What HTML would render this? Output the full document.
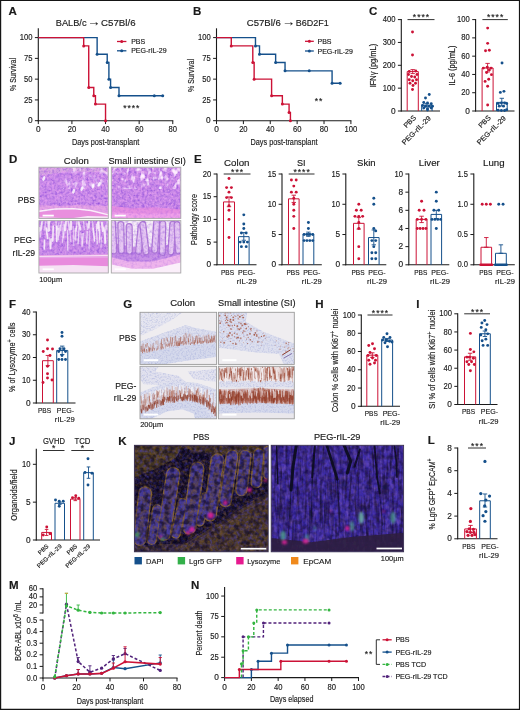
<!DOCTYPE html>
<html lang="en"><head><meta charset="utf-8"><title>Figure</title>
<style>
html,body{margin:0;padding:0;background:#fff}
svg{display:block}
text{font-family:"Liberation Sans",sans-serif;fill:#1a1a1a;stroke:#1a1a1a;stroke-width:0.15px}
</style></head><body>
<svg width="520" height="710" viewBox="0 0 520 710">
<rect x="0" y="0" width="520" height="710" fill="#fff"/>
<text x="8.6" y="15.4" font-size="10.2" font-weight="bold" textLength="8.32" lengthAdjust="spacingAndGlyphs" fill="#000">A</text>
<text x="55.8" y="25.7" font-size="9.3" textLength="30.7" lengthAdjust="spacingAndGlyphs">BALB/c</text>
<text x="93.7" y="25.7" font-size="13" text-anchor="middle">→</text>
<text x="101" y="25.7" font-size="9.3" textLength="34.6" lengthAdjust="spacingAndGlyphs">C57Bl/6</text>
<line x1="38.3" y1="28.3" x2="38.3" y2="121.2" stroke="#1a1a1a" stroke-width="1.1"/>
<line x1="34.9" y1="120.7" x2="38.3" y2="120.7" stroke="#1a1a1a" stroke-width="1"/>
<text x="32.5" y="123.27" font-size="8.3" text-anchor="end">0</text>
<line x1="34.9" y1="99.93" x2="38.3" y2="99.93" stroke="#1a1a1a" stroke-width="1"/>
<text x="32.5" y="102.5" font-size="8.3" text-anchor="end" textLength="8.49" lengthAdjust="spacingAndGlyphs">25</text>
<line x1="34.9" y1="79.15" x2="38.3" y2="79.15" stroke="#1a1a1a" stroke-width="1"/>
<text x="32.5" y="81.72" font-size="8.3" text-anchor="end" textLength="8.49" lengthAdjust="spacingAndGlyphs">50</text>
<line x1="34.9" y1="58.38" x2="38.3" y2="58.38" stroke="#1a1a1a" stroke-width="1"/>
<text x="32.5" y="60.95" font-size="8.3" text-anchor="end" textLength="8.49" lengthAdjust="spacingAndGlyphs">75</text>
<line x1="34.9" y1="37.6" x2="38.3" y2="37.6" stroke="#1a1a1a" stroke-width="1"/>
<text x="32.5" y="40.17" font-size="8.3" text-anchor="end" textLength="12.74" lengthAdjust="spacingAndGlyphs">100</text>
<line x1="37.8" y1="120.7" x2="173.28" y2="120.7" stroke="#1a1a1a" stroke-width="1.1"/>
<line x1="38.3" y1="120.7" x2="38.3" y2="124.1" stroke="#1a1a1a" stroke-width="1"/>
<text x="38.3" y="132.3" font-size="8.3" text-anchor="middle">0</text>
<line x1="71.92" y1="120.7" x2="71.92" y2="124.1" stroke="#1a1a1a" stroke-width="1"/>
<text x="71.92" y="132.3" font-size="8.3" text-anchor="middle" textLength="8.49" lengthAdjust="spacingAndGlyphs">20</text>
<line x1="105.54" y1="120.7" x2="105.54" y2="124.1" stroke="#1a1a1a" stroke-width="1"/>
<text x="105.54" y="132.3" font-size="8.3" text-anchor="middle" textLength="8.49" lengthAdjust="spacingAndGlyphs">40</text>
<line x1="139.16" y1="120.7" x2="139.16" y2="124.1" stroke="#1a1a1a" stroke-width="1"/>
<text x="139.16" y="132.3" font-size="8.3" text-anchor="middle" textLength="8.49" lengthAdjust="spacingAndGlyphs">60</text>
<line x1="172.78" y1="120.7" x2="172.78" y2="124.1" stroke="#1a1a1a" stroke-width="1"/>
<text x="172.78" y="132.3" font-size="8.3" text-anchor="middle" textLength="8.49" lengthAdjust="spacingAndGlyphs">80</text>
<text x="16.2" y="74.5" font-size="9" text-anchor="middle" transform="rotate(-90 16.2 74.5)" textLength="33" lengthAdjust="spacingAndGlyphs">% Survival</text>
<text x="105.6" y="145" font-size="9" text-anchor="middle" textLength="67.4" lengthAdjust="spacingAndGlyphs">Days post-transplant</text>
<path d="M38.3 37.6 L97.13 37.6 L97.13 54.22 L107.22 54.22 L107.22 62.53 L108.9 62.53 L108.9 79.15 L110.58 79.15 L110.58 87.46 L118.99 87.46 L118.99 95.77 L162.69 95.77" stroke="#15508b" stroke-width="1.4" fill="none" stroke-linejoin="miter"/>
<circle cx="97.13" cy="54.22" r="1.5" fill="#15508b"/>
<circle cx="107.22" cy="62.53" r="1.5" fill="#15508b"/>
<circle cx="108.9" cy="79.15" r="1.5" fill="#15508b"/>
<circle cx="110.58" cy="87.46" r="1.5" fill="#15508b"/>
<circle cx="118.99" cy="95.77" r="1.5" fill="#15508b"/>
<circle cx="154.29" cy="95.77" r="1.5" fill="#15508b"/>
<circle cx="162.69" cy="95.77" r="1.5" fill="#15508b"/>
<path d="M38.3 37.6 L83.69 37.6 L83.69 45.91 L88.73 45.91 L88.73 87.46 L93.77 87.46 L93.77 95.77 L95.45 95.77 L95.45 104.08 L105.54 104.08 L105.54 120.7" stroke="#cc1236" stroke-width="1.4" fill="none" stroke-linejoin="miter"/>
<circle cx="83.69" cy="45.91" r="1.5" fill="#cc1236"/>
<circle cx="88.73" cy="87.46" r="1.5" fill="#cc1236"/>
<circle cx="93.77" cy="95.77" r="1.5" fill="#cc1236"/>
<circle cx="95.45" cy="104.08" r="1.5" fill="#cc1236"/>
<circle cx="105.54" cy="120.7" r="1.5" fill="#cc1236"/>
<line x1="117" y1="41.5" x2="126.4" y2="41.5" stroke="#cc1236" stroke-width="1.3"/>
<circle cx="121.7" cy="41.5" r="1.5" fill="#cc1236"/>
<text x="131.2" y="44" font-size="7">PBS</text>
<line x1="117" y1="50.8" x2="126.4" y2="50.8" stroke="#15508b" stroke-width="1.3"/>
<circle cx="121.7" cy="50.8" r="1.5" fill="#15508b"/>
<text x="131.2" y="53.3" font-size="7">PEG-rIL-29</text>
<text x="131.3" y="110.5" font-size="8.6" text-anchor="middle" textLength="16.3" lengthAdjust="spacing">****</text>
<text x="193" y="15.4" font-size="10.2" font-weight="bold" textLength="8.32" lengthAdjust="spacingAndGlyphs" fill="#000">B</text>
<text x="246.8" y="25.7" font-size="9.3" textLength="34" lengthAdjust="spacingAndGlyphs">C57Bl/6</text>
<text x="288.4" y="25.7" font-size="13" text-anchor="middle">→</text>
<text x="295.8" y="25.7" font-size="9.3" textLength="33" lengthAdjust="spacingAndGlyphs">B6D2F1</text>
<line x1="216.5" y1="28.3" x2="216.5" y2="121.2" stroke="#1a1a1a" stroke-width="1.1"/>
<line x1="213.1" y1="120.7" x2="216.5" y2="120.7" stroke="#1a1a1a" stroke-width="1"/>
<text x="210.7" y="123.27" font-size="8.3" text-anchor="end">0</text>
<line x1="213.1" y1="99.93" x2="216.5" y2="99.93" stroke="#1a1a1a" stroke-width="1"/>
<text x="210.7" y="102.5" font-size="8.3" text-anchor="end" textLength="8.49" lengthAdjust="spacingAndGlyphs">25</text>
<line x1="213.1" y1="79.15" x2="216.5" y2="79.15" stroke="#1a1a1a" stroke-width="1"/>
<text x="210.7" y="81.72" font-size="8.3" text-anchor="end" textLength="8.49" lengthAdjust="spacingAndGlyphs">50</text>
<line x1="213.1" y1="58.38" x2="216.5" y2="58.38" stroke="#1a1a1a" stroke-width="1"/>
<text x="210.7" y="60.95" font-size="8.3" text-anchor="end" textLength="8.49" lengthAdjust="spacingAndGlyphs">75</text>
<line x1="213.1" y1="37.6" x2="216.5" y2="37.6" stroke="#1a1a1a" stroke-width="1"/>
<text x="210.7" y="40.17" font-size="8.3" text-anchor="end" textLength="12.74" lengthAdjust="spacingAndGlyphs">100</text>
<line x1="216" y1="120.7" x2="351.4" y2="120.7" stroke="#1a1a1a" stroke-width="1.1"/>
<line x1="216.5" y1="120.7" x2="216.5" y2="124.1" stroke="#1a1a1a" stroke-width="1"/>
<text x="216.5" y="132.3" font-size="8.3" text-anchor="middle">0</text>
<line x1="243.38" y1="120.7" x2="243.38" y2="124.1" stroke="#1a1a1a" stroke-width="1"/>
<text x="243.38" y="132.3" font-size="8.3" text-anchor="middle" textLength="8.49" lengthAdjust="spacingAndGlyphs">20</text>
<line x1="270.26" y1="120.7" x2="270.26" y2="124.1" stroke="#1a1a1a" stroke-width="1"/>
<text x="270.26" y="132.3" font-size="8.3" text-anchor="middle" textLength="8.49" lengthAdjust="spacingAndGlyphs">40</text>
<line x1="297.14" y1="120.7" x2="297.14" y2="124.1" stroke="#1a1a1a" stroke-width="1"/>
<text x="297.14" y="132.3" font-size="8.3" text-anchor="middle" textLength="8.49" lengthAdjust="spacingAndGlyphs">60</text>
<line x1="324.02" y1="120.7" x2="324.02" y2="124.1" stroke="#1a1a1a" stroke-width="1"/>
<text x="324.02" y="132.3" font-size="8.3" text-anchor="middle" textLength="8.49" lengthAdjust="spacingAndGlyphs">80</text>
<line x1="350.9" y1="120.7" x2="350.9" y2="124.1" stroke="#1a1a1a" stroke-width="1"/>
<text x="350.9" y="132.3" font-size="8.3" text-anchor="middle" textLength="12.74" lengthAdjust="spacingAndGlyphs">100</text>
<text x="193.6" y="75.5" font-size="9" text-anchor="middle" transform="rotate(-90 193.6 75.5)" textLength="33" lengthAdjust="spacingAndGlyphs">% Survival</text>
<text x="284" y="145" font-size="9" text-anchor="middle" textLength="67" lengthAdjust="spacingAndGlyphs">Days post-transplant</text>
<path d="M216.5 37.6 L255.48 37.6 L255.48 45.91 L259.51 45.91 L259.51 54.22 L275.64 54.22 L275.64 62.53 L285.04 62.53 L285.04 70.84 L332.08 70.84 L332.08 83.31 L340.15 83.31" stroke="#15508b" stroke-width="1.4" fill="none" stroke-linejoin="miter"/>
<circle cx="255.48" cy="45.91" r="1.5" fill="#15508b"/>
<circle cx="259.51" cy="54.22" r="1.5" fill="#15508b"/>
<circle cx="275.64" cy="62.53" r="1.5" fill="#15508b"/>
<circle cx="285.04" cy="70.84" r="1.5" fill="#15508b"/>
<circle cx="309.24" cy="70.84" r="1.5" fill="#15508b"/>
<circle cx="332.08" cy="83.31" r="1.5" fill="#15508b"/>
<circle cx="340.15" cy="83.31" r="1.5" fill="#15508b"/>
<path d="M216.5 37.6 L231.28 37.6 L231.28 45.91 L252.79 45.91 L252.79 62.53 L254.13 62.53 L254.13 79.15 L271.6 79.15 L271.6 95.77 L282.36 95.77 L282.36 104.08 L289.08 104.08 L289.08 112.39 L290.42 112.39 L290.42 120.7" stroke="#cc1236" stroke-width="1.4" fill="none" stroke-linejoin="miter"/>
<circle cx="231.28" cy="45.91" r="1.5" fill="#cc1236"/>
<circle cx="252.79" cy="62.53" r="1.5" fill="#cc1236"/>
<circle cx="254.13" cy="79.15" r="1.5" fill="#cc1236"/>
<circle cx="271.6" cy="95.77" r="1.5" fill="#cc1236"/>
<circle cx="282.36" cy="104.08" r="1.5" fill="#cc1236"/>
<circle cx="289.08" cy="112.39" r="1.5" fill="#cc1236"/>
<circle cx="290.42" cy="120.7" r="1.5" fill="#cc1236"/>
<line x1="305" y1="41.3" x2="313.8" y2="41.3" stroke="#cc1236" stroke-width="1.3"/>
<circle cx="309.4" cy="41.3" r="1.5" fill="#cc1236"/>
<text x="317.5" y="43.8" font-size="7">PBS</text>
<line x1="305" y1="51" x2="313.8" y2="51" stroke="#15508b" stroke-width="1.3"/>
<circle cx="309.4" cy="51" r="1.5" fill="#15508b"/>
<text x="317.5" y="53.5" font-size="7">PEG-rIL-29</text>
<text x="318.5" y="104" font-size="8.6" text-anchor="middle" textLength="7.7" lengthAdjust="spacing">**</text>
<text x="369" y="15.4" font-size="10.2" font-weight="bold" textLength="8.32" lengthAdjust="spacingAndGlyphs" fill="#000">C</text>
<line x1="401.3" y1="19.1" x2="401.3" y2="111.5" stroke="#1a1a1a" stroke-width="1.1"/>
<line x1="397.9" y1="111" x2="401.3" y2="111" stroke="#1a1a1a" stroke-width="1"/>
<text x="395.5" y="113.57" font-size="8.3" text-anchor="end">0</text>
<line x1="397.9" y1="88.15" x2="401.3" y2="88.15" stroke="#1a1a1a" stroke-width="1"/>
<text x="395.5" y="90.72" font-size="8.3" text-anchor="end" textLength="12.74" lengthAdjust="spacingAndGlyphs">100</text>
<line x1="397.9" y1="65.3" x2="401.3" y2="65.3" stroke="#1a1a1a" stroke-width="1"/>
<text x="395.5" y="67.87" font-size="8.3" text-anchor="end" textLength="12.74" lengthAdjust="spacingAndGlyphs">200</text>
<line x1="397.9" y1="42.45" x2="401.3" y2="42.45" stroke="#1a1a1a" stroke-width="1"/>
<text x="395.5" y="45.02" font-size="8.3" text-anchor="end" textLength="12.74" lengthAdjust="spacingAndGlyphs">300</text>
<line x1="397.9" y1="19.6" x2="401.3" y2="19.6" stroke="#1a1a1a" stroke-width="1"/>
<text x="395.5" y="22.17" font-size="8.3" text-anchor="end" textLength="12.74" lengthAdjust="spacingAndGlyphs">400</text>
<line x1="400.8" y1="111" x2="440" y2="111" stroke="#1a1a1a" stroke-width="1.1"/>
<text x="375.6" y="65.6" font-size="9" text-anchor="middle" transform="rotate(-90 375.6 65.6)" textLength="43.5" lengthAdjust="spacingAndGlyphs">IFNγ (pg/mL)</text>
<path d="M407.2 111V71.6H418.3V111" stroke="#cc1236" stroke-width="1" fill="none"/>
<line x1="412.7" y1="69.6" x2="412.7" y2="73.6" stroke="#cc1236" stroke-width="0.9"/>
<line x1="410.5" y1="69.6" x2="414.9" y2="69.6" stroke="#cc1236" stroke-width="0.9"/>
<line x1="410.5" y1="73.6" x2="414.9" y2="73.6" stroke="#cc1236" stroke-width="0.9"/>
<path d="M421.7 111V105.2H432.1V111" stroke="#15508b" stroke-width="1" fill="none"/>
<line x1="426.9" y1="103.6" x2="426.9" y2="106.8" stroke="#15508b" stroke-width="0.9"/>
<line x1="424.7" y1="103.6" x2="429.1" y2="103.6" stroke="#15508b" stroke-width="0.9"/>
<line x1="424.7" y1="106.8" x2="429.1" y2="106.8" stroke="#15508b" stroke-width="0.9"/>
<circle cx="412.5" cy="32" r="1.45" fill="#cc1236"/>
<circle cx="412.5" cy="55" r="1.45" fill="#cc1236"/>
<circle cx="409.25" cy="71.5" r="1.45" fill="#cc1236"/>
<circle cx="415.75" cy="71" r="1.45" fill="#cc1236"/>
<circle cx="408.5" cy="74.5" r="1.45" fill="#cc1236"/>
<circle cx="417" cy="74.5" r="1.45" fill="#cc1236"/>
<circle cx="411.5" cy="76.5" r="1.45" fill="#cc1236"/>
<circle cx="414.75" cy="77" r="1.45" fill="#cc1236"/>
<circle cx="409.25" cy="79.75" r="1.45" fill="#cc1236"/>
<circle cx="416.5" cy="79.75" r="1.45" fill="#cc1236"/>
<circle cx="412.75" cy="80.75" r="1.45" fill="#cc1236"/>
<circle cx="410" cy="83.25" r="1.45" fill="#cc1236"/>
<circle cx="415.5" cy="83.25" r="1.45" fill="#cc1236"/>
<circle cx="413" cy="85.5" r="1.45" fill="#cc1236"/>
<circle cx="412.5" cy="89.5" r="1.45" fill="#cc1236"/>
<circle cx="429.25" cy="94.5" r="1.45" fill="#15508b"/>
<circle cx="425.5" cy="98" r="1.45" fill="#15508b"/>
<circle cx="423.75" cy="102.5" r="1.45" fill="#15508b"/>
<circle cx="427.5" cy="103" r="1.45" fill="#15508b"/>
<circle cx="431.25" cy="103.75" r="1.45" fill="#15508b"/>
<circle cx="422.5" cy="105.5" r="1.45" fill="#15508b"/>
<circle cx="425.5" cy="106.25" r="1.45" fill="#15508b"/>
<circle cx="429.25" cy="106.25" r="1.45" fill="#15508b"/>
<circle cx="432.5" cy="106.25" r="1.45" fill="#15508b"/>
<circle cx="423.75" cy="108" r="1.45" fill="#15508b"/>
<circle cx="427.5" cy="108.75" r="1.45" fill="#15508b"/>
<circle cx="431.25" cy="108" r="1.45" fill="#15508b"/>
<circle cx="427.5" cy="110" r="1.45" fill="#15508b"/>
<line x1="407.5" y1="19.6" x2="434.5" y2="19.6" stroke="#1a1a1a" stroke-width="0.9"/>
<text x="421" y="20.4" font-size="8.6" text-anchor="middle" textLength="16.3" lengthAdjust="spacing">****</text>
<text x="416.5" y="118.2" font-size="7.1" text-anchor="end" transform="rotate(-45 416.5 118.2)">PBS</text>
<text x="431.3" y="118.8" font-size="7.1" text-anchor="end" transform="rotate(-45 431.3 118.8)" textLength="37.4" lengthAdjust="spacingAndGlyphs">PEG-rIL-29</text>
<line x1="475.6" y1="19.1" x2="475.6" y2="111.5" stroke="#1a1a1a" stroke-width="1.1"/>
<line x1="472.2" y1="111" x2="475.6" y2="111" stroke="#1a1a1a" stroke-width="1"/>
<text x="469.8" y="113.57" font-size="8.3" text-anchor="end">0</text>
<line x1="472.2" y1="92.72" x2="475.6" y2="92.72" stroke="#1a1a1a" stroke-width="1"/>
<text x="469.8" y="95.29" font-size="8.3" text-anchor="end" textLength="8.49" lengthAdjust="spacingAndGlyphs">20</text>
<line x1="472.2" y1="74.44" x2="475.6" y2="74.44" stroke="#1a1a1a" stroke-width="1"/>
<text x="469.8" y="77.01" font-size="8.3" text-anchor="end" textLength="8.49" lengthAdjust="spacingAndGlyphs">40</text>
<line x1="472.2" y1="56.16" x2="475.6" y2="56.16" stroke="#1a1a1a" stroke-width="1"/>
<text x="469.8" y="58.73" font-size="8.3" text-anchor="end" textLength="8.49" lengthAdjust="spacingAndGlyphs">60</text>
<line x1="472.2" y1="37.88" x2="475.6" y2="37.88" stroke="#1a1a1a" stroke-width="1"/>
<text x="469.8" y="40.45" font-size="8.3" text-anchor="end" textLength="8.49" lengthAdjust="spacingAndGlyphs">80</text>
<line x1="472.2" y1="19.6" x2="475.6" y2="19.6" stroke="#1a1a1a" stroke-width="1"/>
<text x="469.8" y="22.17" font-size="8.3" text-anchor="end" textLength="12.74" lengthAdjust="spacingAndGlyphs">100</text>
<line x1="475.1" y1="111" x2="514.5" y2="111" stroke="#1a1a1a" stroke-width="1.1"/>
<text x="454.9" y="65.6" font-size="9" text-anchor="middle" transform="rotate(-90 454.9 65.6)" textLength="40" lengthAdjust="spacingAndGlyphs">IL-6 (pg/mL)</text>
<path d="M482.1 111V68H493.1V111" stroke="#cc1236" stroke-width="1" fill="none"/>
<line x1="487.6" y1="63.4" x2="487.6" y2="72" stroke="#cc1236" stroke-width="0.9"/>
<line x1="485.4" y1="63.4" x2="489.8" y2="63.4" stroke="#cc1236" stroke-width="0.9"/>
<line x1="485.4" y1="72" x2="489.8" y2="72" stroke="#cc1236" stroke-width="0.9"/>
<path d="M496.5 111V102.4H507.2V111" stroke="#15508b" stroke-width="1" fill="none"/>
<line x1="501.8" y1="98.3" x2="501.8" y2="106" stroke="#15508b" stroke-width="0.9"/>
<line x1="499.6" y1="98.3" x2="504" y2="98.3" stroke="#15508b" stroke-width="0.9"/>
<line x1="499.6" y1="106" x2="504" y2="106" stroke="#15508b" stroke-width="0.9"/>
<circle cx="487.65" cy="28.12" r="1.45" fill="#cc1236"/>
<circle cx="487.65" cy="43.34" r="1.45" fill="#cc1236"/>
<circle cx="485.54" cy="50.74" r="1.45" fill="#cc1236"/>
<circle cx="489.34" cy="50.32" r="1.45" fill="#cc1236"/>
<circle cx="483.42" cy="68.08" r="1.45" fill="#cc1236"/>
<circle cx="487.23" cy="67.23" r="1.45" fill="#cc1236"/>
<circle cx="491.04" cy="68.08" r="1.45" fill="#cc1236"/>
<circle cx="489.34" cy="69.98" r="1.45" fill="#cc1236"/>
<circle cx="486.6" cy="72.52" r="1.45" fill="#cc1236"/>
<circle cx="491.46" cy="74.63" r="1.45" fill="#cc1236"/>
<circle cx="488.71" cy="79.28" r="1.45" fill="#cc1236"/>
<circle cx="485.12" cy="81.4" r="1.45" fill="#cc1236"/>
<circle cx="487.65" cy="86.26" r="1.45" fill="#cc1236"/>
<circle cx="487.65" cy="105.07" r="1.45" fill="#cc1236"/>
<circle cx="502.03" cy="63" r="1.45" fill="#15508b"/>
<circle cx="500.34" cy="92.39" r="1.45" fill="#15508b"/>
<circle cx="503.93" cy="91.33" r="1.45" fill="#15508b"/>
<circle cx="498.22" cy="103.59" r="1.45" fill="#15508b"/>
<circle cx="501.4" cy="102.96" r="1.45" fill="#15508b"/>
<circle cx="504.57" cy="102.96" r="1.45" fill="#15508b"/>
<circle cx="506.68" cy="103.59" r="1.45" fill="#15508b"/>
<circle cx="499.28" cy="106.13" r="1.45" fill="#15508b"/>
<circle cx="503.51" cy="106.13" r="1.45" fill="#15508b"/>
<circle cx="498.22" cy="110.15" r="1.45" fill="#15508b"/>
<circle cx="501.4" cy="110.57" r="1.45" fill="#15508b"/>
<circle cx="504.57" cy="110.57" r="1.45" fill="#15508b"/>
<circle cx="506.68" cy="109.73" r="1.45" fill="#15508b"/>
<line x1="482.4" y1="19.6" x2="507.8" y2="19.6" stroke="#1a1a1a" stroke-width="0.9"/>
<text x="495.1" y="20.4" font-size="8.6" text-anchor="middle" textLength="16.3" lengthAdjust="spacing">****</text>
<text x="491.3" y="118.2" font-size="7.1" text-anchor="end" transform="rotate(-45 491.3 118.2)">PBS</text>
<text x="506.3" y="118.8" font-size="7.1" text-anchor="end" transform="rotate(-45 506.3 118.8)" textLength="37.4" lengthAdjust="spacingAndGlyphs">PEG-rIL-29</text>
<text x="194" y="163" font-size="10.2" font-weight="bold" textLength="7.69" lengthAdjust="spacingAndGlyphs" fill="#000">E</text>
<text x="196.6" y="219.5" font-size="9" text-anchor="middle" transform="rotate(-90 196.6 219.5)" textLength="51" lengthAdjust="spacingAndGlyphs">Pathology score</text>
<line x1="217" y1="173.5" x2="217" y2="265.3" stroke="#1a1a1a" stroke-width="1.1"/>
<line x1="213.6" y1="264.8" x2="217" y2="264.8" stroke="#1a1a1a" stroke-width="1"/>
<text x="211.2" y="267.37" font-size="8.3" text-anchor="end">0</text>
<line x1="213.6" y1="242.1" x2="217" y2="242.1" stroke="#1a1a1a" stroke-width="1"/>
<text x="211.2" y="244.67" font-size="8.3" text-anchor="end">5</text>
<line x1="213.6" y1="219.4" x2="217" y2="219.4" stroke="#1a1a1a" stroke-width="1"/>
<text x="211.2" y="221.97" font-size="8.3" text-anchor="end" textLength="8.49" lengthAdjust="spacingAndGlyphs">10</text>
<line x1="213.6" y1="196.7" x2="217" y2="196.7" stroke="#1a1a1a" stroke-width="1"/>
<text x="211.2" y="199.27" font-size="8.3" text-anchor="end" textLength="8.49" lengthAdjust="spacingAndGlyphs">15</text>
<line x1="213.6" y1="174" x2="217" y2="174" stroke="#1a1a1a" stroke-width="1"/>
<text x="211.2" y="176.57" font-size="8.3" text-anchor="end" textLength="8.49" lengthAdjust="spacingAndGlyphs">20</text>
<line x1="216.5" y1="264.8" x2="256.5" y2="264.8" stroke="#1a1a1a" stroke-width="1.1"/>
<text x="236.8" y="166.3" font-size="9" text-anchor="middle" textLength="25.5" lengthAdjust="spacingAndGlyphs">Colon</text>
<path d="M223.5 264.8V201.92H234.5V264.8" stroke="#cc1236" stroke-width="1" fill="none"/>
<path d="M238.5 264.8V236.65H249.1V264.8" stroke="#15508b" stroke-width="1" fill="none"/>
<line x1="229" y1="196.93" x2="229" y2="206.69" stroke="#cc1236" stroke-width="0.9"/>
<line x1="226.8" y1="196.93" x2="231.2" y2="196.93" stroke="#cc1236" stroke-width="0.9"/>
<line x1="226.8" y1="206.69" x2="231.2" y2="206.69" stroke="#cc1236" stroke-width="0.9"/>
<line x1="243.8" y1="232.57" x2="243.8" y2="240.28" stroke="#15508b" stroke-width="0.9"/>
<line x1="241.6" y1="232.57" x2="246" y2="232.57" stroke="#15508b" stroke-width="0.9"/>
<line x1="241.6" y1="240.28" x2="246" y2="240.28" stroke="#15508b" stroke-width="0.9"/>
<text x="227.5" y="274.5" font-size="7.9" text-anchor="middle" textLength="13.1" lengthAdjust="spacingAndGlyphs">PBS</text>
<text x="246.7" y="274.5" font-size="7.9" text-anchor="middle" textLength="17.3" lengthAdjust="spacingAndGlyphs">PEG-</text>
<text x="246.7" y="283.7" font-size="7.9" text-anchor="middle" textLength="19.9" lengthAdjust="spacingAndGlyphs">rIL-29</text>
<line x1="223.7" y1="174" x2="250.5" y2="174" stroke="#1a1a1a" stroke-width="0.9"/>
<text x="237.1" y="174.8" font-size="8.6" text-anchor="middle" textLength="12" lengthAdjust="spacing">***</text>
<circle cx="229" cy="178.54" r="1.45" fill="#cc1236"/>
<circle cx="226.6" cy="187.62" r="1.45" fill="#cc1236"/>
<circle cx="231.4" cy="187.62" r="1.45" fill="#cc1236"/>
<circle cx="229" cy="192.16" r="1.45" fill="#cc1236"/>
<circle cx="226.6" cy="197.61" r="1.45" fill="#cc1236"/>
<circle cx="231.4" cy="197.61" r="1.45" fill="#cc1236"/>
<circle cx="229" cy="205.78" r="1.45" fill="#cc1236"/>
<circle cx="229" cy="210.32" r="1.45" fill="#cc1236"/>
<circle cx="229" cy="219.4" r="1.45" fill="#cc1236"/>
<circle cx="229" cy="237.56" r="1.45" fill="#cc1236"/>
<circle cx="243.8" cy="214.86" r="1.45" fill="#15508b"/>
<circle cx="243.8" cy="223.94" r="1.45" fill="#15508b"/>
<circle cx="243.8" cy="228.48" r="1.45" fill="#15508b"/>
<circle cx="241.4" cy="233.02" r="1.45" fill="#15508b"/>
<circle cx="246.2" cy="233.02" r="1.45" fill="#15508b"/>
<circle cx="240.2" cy="242.1" r="1.45" fill="#15508b"/>
<circle cx="243.8" cy="242.1" r="1.45" fill="#15508b"/>
<circle cx="247.4" cy="242.1" r="1.45" fill="#15508b"/>
<circle cx="241.4" cy="246.64" r="1.45" fill="#15508b"/>
<circle cx="246.2" cy="246.64" r="1.45" fill="#15508b"/>
<line x1="282" y1="173.5" x2="282" y2="265.3" stroke="#1a1a1a" stroke-width="1.1"/>
<line x1="278.6" y1="264.8" x2="282" y2="264.8" stroke="#1a1a1a" stroke-width="1"/>
<text x="276.2" y="267.37" font-size="8.3" text-anchor="end">0</text>
<line x1="278.6" y1="234.53" x2="282" y2="234.53" stroke="#1a1a1a" stroke-width="1"/>
<text x="276.2" y="237.11" font-size="8.3" text-anchor="end">5</text>
<line x1="278.6" y1="204.27" x2="282" y2="204.27" stroke="#1a1a1a" stroke-width="1"/>
<text x="276.2" y="206.84" font-size="8.3" text-anchor="end" textLength="8.49" lengthAdjust="spacingAndGlyphs">10</text>
<line x1="278.6" y1="174" x2="282" y2="174" stroke="#1a1a1a" stroke-width="1"/>
<text x="276.2" y="176.57" font-size="8.3" text-anchor="end" textLength="8.49" lengthAdjust="spacingAndGlyphs">15</text>
<line x1="281.5" y1="264.8" x2="321.8" y2="264.8" stroke="#1a1a1a" stroke-width="1.1"/>
<text x="301.3" y="166.3" font-size="9" text-anchor="middle" textLength="8.6" lengthAdjust="spacingAndGlyphs">SI</text>
<path d="M288.5 264.8V198.82H299.1V264.8" stroke="#cc1236" stroke-width="1" fill="none"/>
<path d="M303 264.8V234.23H313.8V264.8" stroke="#15508b" stroke-width="1" fill="none"/>
<line x1="293.8" y1="195.19" x2="293.8" y2="202.45" stroke="#cc1236" stroke-width="0.9"/>
<line x1="291.6" y1="195.19" x2="296" y2="195.19" stroke="#cc1236" stroke-width="0.9"/>
<line x1="291.6" y1="202.45" x2="296" y2="202.45" stroke="#cc1236" stroke-width="0.9"/>
<line x1="308.4" y1="232.11" x2="308.4" y2="236.35" stroke="#15508b" stroke-width="0.9"/>
<line x1="306.2" y1="232.11" x2="310.6" y2="232.11" stroke="#15508b" stroke-width="0.9"/>
<line x1="306.2" y1="236.35" x2="310.6" y2="236.35" stroke="#15508b" stroke-width="0.9"/>
<text x="293" y="274.5" font-size="7.9" text-anchor="middle" textLength="13.1" lengthAdjust="spacingAndGlyphs">PBS</text>
<text x="311.8" y="274.5" font-size="7.9" text-anchor="middle" textLength="17.3" lengthAdjust="spacingAndGlyphs">PEG-</text>
<text x="311.8" y="283.7" font-size="7.9" text-anchor="middle" textLength="19.9" lengthAdjust="spacingAndGlyphs">rIL-29</text>
<line x1="288.7" y1="174" x2="314.5" y2="174" stroke="#1a1a1a" stroke-width="0.9"/>
<text x="301.6" y="174.8" font-size="8.6" text-anchor="middle" textLength="16.3" lengthAdjust="spacing">****</text>
<circle cx="291.4" cy="180.05" r="1.45" fill="#cc1236"/>
<circle cx="296.2" cy="180.05" r="1.45" fill="#cc1236"/>
<circle cx="293.8" cy="186.11" r="1.45" fill="#cc1236"/>
<circle cx="291.4" cy="192.16" r="1.45" fill="#cc1236"/>
<circle cx="296.2" cy="192.16" r="1.45" fill="#cc1236"/>
<circle cx="293.8" cy="198.21" r="1.45" fill="#cc1236"/>
<circle cx="293.8" cy="204.27" r="1.45" fill="#cc1236"/>
<circle cx="293.8" cy="210.32" r="1.45" fill="#cc1236"/>
<circle cx="293.8" cy="216.37" r="1.45" fill="#cc1236"/>
<circle cx="293.8" cy="228.48" r="1.45" fill="#cc1236"/>
<circle cx="308.4" cy="222.43" r="1.45" fill="#15508b"/>
<circle cx="308.4" cy="228.48" r="1.45" fill="#15508b"/>
<circle cx="304.08" cy="234.53" r="1.45" fill="#15508b"/>
<circle cx="306.96" cy="234.53" r="1.45" fill="#15508b"/>
<circle cx="309.84" cy="234.53" r="1.45" fill="#15508b"/>
<circle cx="312.72" cy="234.53" r="1.45" fill="#15508b"/>
<circle cx="304.08" cy="240.59" r="1.45" fill="#15508b"/>
<circle cx="306.96" cy="240.59" r="1.45" fill="#15508b"/>
<circle cx="309.84" cy="240.59" r="1.45" fill="#15508b"/>
<circle cx="312.72" cy="240.59" r="1.45" fill="#15508b"/>
<line x1="345.8" y1="173.5" x2="345.8" y2="265.3" stroke="#1a1a1a" stroke-width="1.1"/>
<line x1="342.4" y1="264.8" x2="345.8" y2="264.8" stroke="#1a1a1a" stroke-width="1"/>
<text x="340" y="267.37" font-size="8.3" text-anchor="end">0</text>
<line x1="342.4" y1="234.53" x2="345.8" y2="234.53" stroke="#1a1a1a" stroke-width="1"/>
<text x="340" y="237.11" font-size="8.3" text-anchor="end">5</text>
<line x1="342.4" y1="204.27" x2="345.8" y2="204.27" stroke="#1a1a1a" stroke-width="1"/>
<text x="340" y="206.84" font-size="8.3" text-anchor="end" textLength="8.49" lengthAdjust="spacingAndGlyphs">10</text>
<line x1="342.4" y1="174" x2="345.8" y2="174" stroke="#1a1a1a" stroke-width="1"/>
<text x="340" y="176.57" font-size="8.3" text-anchor="end" textLength="8.49" lengthAdjust="spacingAndGlyphs">15</text>
<line x1="345.3" y1="264.8" x2="386.3" y2="264.8" stroke="#1a1a1a" stroke-width="1.1"/>
<text x="366.3" y="166.3" font-size="9" text-anchor="middle" textLength="18.5" lengthAdjust="spacingAndGlyphs">Skin</text>
<path d="M353.5 264.8V223.33H364.1V264.8" stroke="#cc1236" stroke-width="1" fill="none"/>
<path d="M368.5 264.8V237.56H379.1V264.8" stroke="#15508b" stroke-width="1" fill="none"/>
<line x1="358.8" y1="217.58" x2="358.8" y2="229.09" stroke="#cc1236" stroke-width="0.9"/>
<line x1="356.6" y1="217.58" x2="361" y2="217.58" stroke="#cc1236" stroke-width="0.9"/>
<line x1="356.6" y1="229.09" x2="361" y2="229.09" stroke="#cc1236" stroke-width="0.9"/>
<line x1="373.8" y1="229.99" x2="373.8" y2="244.82" stroke="#15508b" stroke-width="0.9"/>
<line x1="371.6" y1="229.99" x2="376" y2="229.99" stroke="#15508b" stroke-width="0.9"/>
<line x1="371.6" y1="244.82" x2="376" y2="244.82" stroke="#15508b" stroke-width="0.9"/>
<text x="358" y="274.5" font-size="7.9" text-anchor="middle" textLength="13.1" lengthAdjust="spacingAndGlyphs">PBS</text>
<text x="377" y="274.5" font-size="7.9" text-anchor="middle" textLength="17.3" lengthAdjust="spacingAndGlyphs">PEG-</text>
<text x="377" y="283.7" font-size="7.9" text-anchor="middle" textLength="19.9" lengthAdjust="spacingAndGlyphs">rIL-29</text>
<circle cx="358.8" cy="204.27" r="1.45" fill="#cc1236"/>
<circle cx="356.4" cy="210.32" r="1.45" fill="#cc1236"/>
<circle cx="361.2" cy="210.32" r="1.45" fill="#cc1236"/>
<circle cx="354.96" cy="216.37" r="1.45" fill="#cc1236"/>
<circle cx="358.8" cy="216.37" r="1.45" fill="#cc1236"/>
<circle cx="362.64" cy="216.37" r="1.45" fill="#cc1236"/>
<circle cx="358.8" cy="222.43" r="1.45" fill="#cc1236"/>
<circle cx="358.8" cy="228.48" r="1.45" fill="#cc1236"/>
<circle cx="358.8" cy="246.64" r="1.45" fill="#cc1236"/>
<circle cx="358.8" cy="258.75" r="1.45" fill="#cc1236"/>
<circle cx="373.8" cy="198.21" r="1.45" fill="#15508b"/>
<circle cx="373.8" cy="204.27" r="1.45" fill="#15508b"/>
<circle cx="373.8" cy="228.48" r="1.45" fill="#15508b"/>
<circle cx="375.72" cy="230.9" r="1.45" fill="#15508b"/>
<circle cx="371.88" cy="240.59" r="1.45" fill="#15508b"/>
<circle cx="375.72" cy="240.59" r="1.45" fill="#15508b"/>
<circle cx="373.8" cy="246.64" r="1.45" fill="#15508b"/>
<circle cx="371.88" cy="252.69" r="1.45" fill="#15508b"/>
<circle cx="375.72" cy="252.69" r="1.45" fill="#15508b"/>
<circle cx="371.88" cy="258.75" r="1.45" fill="#15508b"/>
<circle cx="375.72" cy="258.75" r="1.45" fill="#15508b"/>
<line x1="408.8" y1="173.5" x2="408.8" y2="265.3" stroke="#1a1a1a" stroke-width="1.1"/>
<line x1="405.4" y1="264.8" x2="408.8" y2="264.8" stroke="#1a1a1a" stroke-width="1"/>
<text x="403" y="267.37" font-size="8.3" text-anchor="end">0</text>
<line x1="405.4" y1="246.64" x2="408.8" y2="246.64" stroke="#1a1a1a" stroke-width="1"/>
<text x="403" y="249.21" font-size="8.3" text-anchor="end">2</text>
<line x1="405.4" y1="228.48" x2="408.8" y2="228.48" stroke="#1a1a1a" stroke-width="1"/>
<text x="403" y="231.05" font-size="8.3" text-anchor="end">4</text>
<line x1="405.4" y1="210.32" x2="408.8" y2="210.32" stroke="#1a1a1a" stroke-width="1"/>
<text x="403" y="212.89" font-size="8.3" text-anchor="end">6</text>
<line x1="405.4" y1="192.16" x2="408.8" y2="192.16" stroke="#1a1a1a" stroke-width="1"/>
<text x="403" y="194.73" font-size="8.3" text-anchor="end">8</text>
<line x1="405.4" y1="174" x2="408.8" y2="174" stroke="#1a1a1a" stroke-width="1"/>
<text x="403" y="176.57" font-size="8.3" text-anchor="end" textLength="8.49" lengthAdjust="spacingAndGlyphs">10</text>
<line x1="408.3" y1="264.8" x2="449.3" y2="264.8" stroke="#1a1a1a" stroke-width="1.1"/>
<text x="429.3" y="166.3" font-size="9" text-anchor="middle" textLength="21" lengthAdjust="spacingAndGlyphs">Liver</text>
<path d="M416.2 264.8V219.4H427V264.8" stroke="#cc1236" stroke-width="1" fill="none"/>
<path d="M431 264.8V214.41H441.6V264.8" stroke="#15508b" stroke-width="1" fill="none"/>
<line x1="421.6" y1="216.22" x2="421.6" y2="222.58" stroke="#cc1236" stroke-width="0.9"/>
<line x1="419.4" y1="216.22" x2="423.8" y2="216.22" stroke="#cc1236" stroke-width="0.9"/>
<line x1="419.4" y1="222.58" x2="423.8" y2="222.58" stroke="#cc1236" stroke-width="0.9"/>
<line x1="436.3" y1="210.32" x2="436.3" y2="218.49" stroke="#15508b" stroke-width="0.9"/>
<line x1="434.1" y1="210.32" x2="438.5" y2="210.32" stroke="#15508b" stroke-width="0.9"/>
<line x1="434.1" y1="218.49" x2="438.5" y2="218.49" stroke="#15508b" stroke-width="0.9"/>
<text x="420.8" y="274.5" font-size="7.9" text-anchor="middle" textLength="13.1" lengthAdjust="spacingAndGlyphs">PBS</text>
<text x="440" y="274.5" font-size="7.9" text-anchor="middle" textLength="17.3" lengthAdjust="spacingAndGlyphs">PEG-</text>
<text x="440" y="283.7" font-size="7.9" text-anchor="middle" textLength="19.9" lengthAdjust="spacingAndGlyphs">rIL-29</text>
<circle cx="421.6" cy="201.24" r="1.45" fill="#cc1236"/>
<circle cx="419.2" cy="210.32" r="1.45" fill="#cc1236"/>
<circle cx="424" cy="210.32" r="1.45" fill="#cc1236"/>
<circle cx="417.28" cy="219.4" r="1.45" fill="#cc1236"/>
<circle cx="421.6" cy="219.4" r="1.45" fill="#cc1236"/>
<circle cx="425.92" cy="219.4" r="1.45" fill="#cc1236"/>
<circle cx="417.28" cy="228.48" r="1.45" fill="#cc1236"/>
<circle cx="420.16" cy="228.48" r="1.45" fill="#cc1236"/>
<circle cx="423.04" cy="228.48" r="1.45" fill="#cc1236"/>
<circle cx="425.92" cy="228.48" r="1.45" fill="#cc1236"/>
<circle cx="436.3" cy="192.16" r="1.45" fill="#15508b"/>
<circle cx="436.3" cy="201.24" r="1.45" fill="#15508b"/>
<circle cx="433.9" cy="210.32" r="1.45" fill="#15508b"/>
<circle cx="438.7" cy="210.32" r="1.45" fill="#15508b"/>
<circle cx="431.98" cy="219.4" r="1.45" fill="#15508b"/>
<circle cx="434.86" cy="219.4" r="1.45" fill="#15508b"/>
<circle cx="437.74" cy="219.4" r="1.45" fill="#15508b"/>
<circle cx="440.62" cy="219.4" r="1.45" fill="#15508b"/>
<circle cx="436.3" cy="228.48" r="1.45" fill="#15508b"/>
<line x1="473.8" y1="173.5" x2="473.8" y2="265.3" stroke="#1a1a1a" stroke-width="1.1"/>
<line x1="470.4" y1="264.8" x2="473.8" y2="264.8" stroke="#1a1a1a" stroke-width="1"/>
<text x="468" y="267.37" font-size="8.3" text-anchor="end" textLength="10.62" lengthAdjust="spacingAndGlyphs">0.0</text>
<line x1="470.4" y1="234.53" x2="473.8" y2="234.53" stroke="#1a1a1a" stroke-width="1"/>
<text x="468" y="237.11" font-size="8.3" text-anchor="end" textLength="10.62" lengthAdjust="spacingAndGlyphs">0.5</text>
<line x1="470.4" y1="204.27" x2="473.8" y2="204.27" stroke="#1a1a1a" stroke-width="1"/>
<text x="468" y="206.84" font-size="8.3" text-anchor="end" textLength="10.62" lengthAdjust="spacingAndGlyphs">1.0</text>
<line x1="470.4" y1="174" x2="473.8" y2="174" stroke="#1a1a1a" stroke-width="1"/>
<text x="468" y="176.57" font-size="8.3" text-anchor="end" textLength="10.62" lengthAdjust="spacingAndGlyphs">1.5</text>
<line x1="473.3" y1="264.8" x2="514.8" y2="264.8" stroke="#1a1a1a" stroke-width="1.1"/>
<text x="493.8" y="166.3" font-size="9" text-anchor="middle" textLength="21.5" lengthAdjust="spacingAndGlyphs">Lung</text>
<path d="M481 264.8V247.25H491.6V264.8" stroke="#cc1236" stroke-width="1" fill="none"/>
<path d="M495.5 264.8V253.3H506.3V264.8" stroke="#15508b" stroke-width="1" fill="none"/>
<line x1="486.3" y1="237.56" x2="486.3" y2="247.25" stroke="#cc1236" stroke-width="0.9"/>
<line x1="484.1" y1="237.56" x2="488.5" y2="237.56" stroke="#cc1236" stroke-width="0.9"/>
<line x1="484.1" y1="247.25" x2="488.5" y2="247.25" stroke="#cc1236" stroke-width="0.9"/>
<line x1="500.9" y1="244.82" x2="500.9" y2="253.3" stroke="#15508b" stroke-width="0.9"/>
<line x1="498.7" y1="244.82" x2="503.1" y2="244.82" stroke="#15508b" stroke-width="0.9"/>
<line x1="498.7" y1="253.3" x2="503.1" y2="253.3" stroke="#15508b" stroke-width="0.9"/>
<text x="485.8" y="274.5" font-size="7.9" text-anchor="middle" textLength="13.1" lengthAdjust="spacingAndGlyphs">PBS</text>
<text x="505" y="274.5" font-size="7.9" text-anchor="middle" textLength="17.3" lengthAdjust="spacingAndGlyphs">PEG-</text>
<text x="505" y="283.7" font-size="7.9" text-anchor="middle" textLength="19.9" lengthAdjust="spacingAndGlyphs">rIL-29</text>
<circle cx="482.22" cy="204.27" r="1.45" fill="#cc1236"/>
<circle cx="486.3" cy="204.27" r="1.45" fill="#cc1236"/>
<circle cx="490.38" cy="204.27" r="1.45" fill="#cc1236"/>
<circle cx="498.74" cy="204.27" r="1.45" fill="#15508b"/>
<circle cx="503.06" cy="204.27" r="1.45" fill="#15508b"/>
<line x1="480.6" y1="264.8" x2="492" y2="264.8" stroke="#cc1236" stroke-width="2.6" stroke-linecap="round"/>
<line x1="495.2" y1="264.8" x2="506.6" y2="264.8" stroke="#15508b" stroke-width="2.6" stroke-linecap="round"/>
<text x="9" y="308.3" font-size="10.2" font-weight="bold" textLength="7.04" lengthAdjust="spacingAndGlyphs" fill="#000">F</text>
<line x1="36.3" y1="311.5" x2="36.3" y2="403.5" stroke="#1a1a1a" stroke-width="1.1"/>
<line x1="32.9" y1="403" x2="36.3" y2="403" stroke="#1a1a1a" stroke-width="1"/>
<text x="30.5" y="405.57" font-size="8.3" text-anchor="end">0</text>
<line x1="32.9" y1="380.25" x2="36.3" y2="380.25" stroke="#1a1a1a" stroke-width="1"/>
<text x="30.5" y="382.82" font-size="8.3" text-anchor="end" textLength="8.49" lengthAdjust="spacingAndGlyphs">10</text>
<line x1="32.9" y1="357.5" x2="36.3" y2="357.5" stroke="#1a1a1a" stroke-width="1"/>
<text x="30.5" y="360.07" font-size="8.3" text-anchor="end" textLength="8.49" lengthAdjust="spacingAndGlyphs">20</text>
<line x1="32.9" y1="334.75" x2="36.3" y2="334.75" stroke="#1a1a1a" stroke-width="1"/>
<text x="30.5" y="337.32" font-size="8.3" text-anchor="end" textLength="8.49" lengthAdjust="spacingAndGlyphs">30</text>
<line x1="32.9" y1="312" x2="36.3" y2="312" stroke="#1a1a1a" stroke-width="1"/>
<text x="30.5" y="314.57" font-size="8.3" text-anchor="end" textLength="8.49" lengthAdjust="spacingAndGlyphs">40</text>
<line x1="35.8" y1="403" x2="75.5" y2="403" stroke="#1a1a1a" stroke-width="1.1"/>
<text x="14.6" y="357.3" font-size="9" text-anchor="middle" transform="rotate(-90 14.6 357.3)" textLength="69.5" lengthAdjust="spacingAndGlyphs">% of Lysozyme<tspan font-size="6.6" dy="-3">+</tspan><tspan dy="3"> cells</tspan></text>
<path d="M42.5 403V360.69H53.3V403" stroke="#cc1236" stroke-width="1" fill="none"/>
<path d="M56.7 403V350.45H67.8V403" stroke="#15508b" stroke-width="1" fill="none"/>
<line x1="47.9" y1="355.45" x2="47.9" y2="365.69" stroke="#cc1236" stroke-width="0.9"/>
<line x1="45.7" y1="355.45" x2="50.1" y2="355.45" stroke="#cc1236" stroke-width="0.9"/>
<line x1="45.7" y1="365.69" x2="50.1" y2="365.69" stroke="#cc1236" stroke-width="0.9"/>
<line x1="62.2" y1="346.12" x2="62.2" y2="354.54" stroke="#15508b" stroke-width="0.9"/>
<line x1="60" y1="346.12" x2="64.4" y2="346.12" stroke="#15508b" stroke-width="0.9"/>
<line x1="60" y1="354.54" x2="64.4" y2="354.54" stroke="#15508b" stroke-width="0.9"/>
<circle cx="47.5" cy="340" r="1.45" fill="#cc1236"/>
<circle cx="47.5" cy="348.75" r="1.45" fill="#cc1236"/>
<circle cx="52.5" cy="349" r="1.45" fill="#cc1236"/>
<circle cx="43.25" cy="351.5" r="1.45" fill="#cc1236"/>
<circle cx="50" cy="355.5" r="1.45" fill="#cc1236"/>
<circle cx="47.5" cy="366.25" r="1.45" fill="#cc1236"/>
<circle cx="47.5" cy="373.75" r="1.45" fill="#cc1236"/>
<circle cx="52" cy="380" r="1.45" fill="#cc1236"/>
<circle cx="43" cy="382.5" r="1.45" fill="#cc1236"/>
<circle cx="47.5" cy="378" r="1.45" fill="#cc1236"/>
<circle cx="62" cy="332.5" r="1.45" fill="#15508b"/>
<circle cx="62" cy="336.25" r="1.45" fill="#15508b"/>
<circle cx="60" cy="348.75" r="1.45" fill="#15508b"/>
<circle cx="64" cy="348.75" r="1.45" fill="#15508b"/>
<circle cx="58.75" cy="351.5" r="1.45" fill="#15508b"/>
<circle cx="65.5" cy="351.5" r="1.45" fill="#15508b"/>
<circle cx="62" cy="355.5" r="1.45" fill="#15508b"/>
<circle cx="58.75" cy="359.5" r="1.45" fill="#15508b"/>
<circle cx="62" cy="359.5" r="1.45" fill="#15508b"/>
<circle cx="65.5" cy="359.5" r="1.45" fill="#15508b"/>
<text x="44.5" y="412.8" font-size="7.9" text-anchor="middle" textLength="13.1" lengthAdjust="spacingAndGlyphs">PBS</text>
<text x="65.5" y="412.8" font-size="7.9" text-anchor="middle" textLength="17.3" lengthAdjust="spacingAndGlyphs">PEG-</text>
<text x="64.8" y="422" font-size="7.9" text-anchor="middle" textLength="19.9" lengthAdjust="spacingAndGlyphs">rIL-29</text>
<text x="315.2" y="308.3" font-size="10.2" font-weight="bold" textLength="8.32" lengthAdjust="spacingAndGlyphs" fill="#000">H</text>
<line x1="361.3" y1="314.5" x2="361.3" y2="406.8" stroke="#1a1a1a" stroke-width="1.1"/>
<line x1="357.9" y1="406.3" x2="361.3" y2="406.3" stroke="#1a1a1a" stroke-width="1"/>
<text x="355.5" y="408.87" font-size="8.3" text-anchor="end">0</text>
<line x1="357.9" y1="388.04" x2="361.3" y2="388.04" stroke="#1a1a1a" stroke-width="1"/>
<text x="355.5" y="390.61" font-size="8.3" text-anchor="end" textLength="8.49" lengthAdjust="spacingAndGlyphs">20</text>
<line x1="357.9" y1="369.78" x2="361.3" y2="369.78" stroke="#1a1a1a" stroke-width="1"/>
<text x="355.5" y="372.35" font-size="8.3" text-anchor="end" textLength="8.49" lengthAdjust="spacingAndGlyphs">40</text>
<line x1="357.9" y1="351.52" x2="361.3" y2="351.52" stroke="#1a1a1a" stroke-width="1"/>
<text x="355.5" y="354.09" font-size="8.3" text-anchor="end" textLength="8.49" lengthAdjust="spacingAndGlyphs">60</text>
<line x1="357.9" y1="333.26" x2="361.3" y2="333.26" stroke="#1a1a1a" stroke-width="1"/>
<text x="355.5" y="335.83" font-size="8.3" text-anchor="end" textLength="8.49" lengthAdjust="spacingAndGlyphs">80</text>
<line x1="357.9" y1="315" x2="361.3" y2="315" stroke="#1a1a1a" stroke-width="1"/>
<text x="355.5" y="317.57" font-size="8.3" text-anchor="end" textLength="12.74" lengthAdjust="spacingAndGlyphs">100</text>
<line x1="360.8" y1="406.3" x2="400" y2="406.3" stroke="#1a1a1a" stroke-width="1.1"/>
<text x="338.4" y="360.6" font-size="9" text-anchor="middle" transform="rotate(-90 338.4 360.6)" textLength="103.5" lengthAdjust="spacingAndGlyphs">Colon % cells with Ki67<tspan font-size="6.6" dy="-3">+</tspan><tspan dy="3"> nuclei</tspan></text>
<path d="M366.8 406.3V355.17H377.8V406.3" stroke="#cc1236" stroke-width="1" fill="none"/>
<path d="M381.7 406.3V340.02H392.6V406.3" stroke="#15508b" stroke-width="1" fill="none"/>
<line x1="372.3" y1="352.8" x2="372.3" y2="357.36" stroke="#cc1236" stroke-width="0.9"/>
<line x1="370.1" y1="352.8" x2="374.5" y2="352.8" stroke="#cc1236" stroke-width="0.9"/>
<line x1="370.1" y1="357.36" x2="374.5" y2="357.36" stroke="#cc1236" stroke-width="0.9"/>
<line x1="387.2" y1="338.46" x2="387.2" y2="341.48" stroke="#15508b" stroke-width="0.9"/>
<line x1="385" y1="338.46" x2="389.4" y2="338.46" stroke="#15508b" stroke-width="0.9"/>
<line x1="385" y1="341.48" x2="389.4" y2="341.48" stroke="#15508b" stroke-width="0.9"/>
<circle cx="372.5" cy="343.75" r="1.45" fill="#cc1236"/>
<circle cx="368.75" cy="345.5" r="1.45" fill="#cc1236"/>
<circle cx="374.5" cy="348.75" r="1.45" fill="#cc1236"/>
<circle cx="370" cy="352.5" r="1.45" fill="#cc1236"/>
<circle cx="368" cy="355.5" r="1.45" fill="#cc1236"/>
<circle cx="376.25" cy="355.5" r="1.45" fill="#cc1236"/>
<circle cx="372.5" cy="358" r="1.45" fill="#cc1236"/>
<circle cx="368.75" cy="360.25" r="1.45" fill="#cc1236"/>
<circle cx="375.5" cy="360.25" r="1.45" fill="#cc1236"/>
<circle cx="374.5" cy="363" r="1.45" fill="#cc1236"/>
<circle cx="370" cy="364.25" r="1.45" fill="#cc1236"/>
<circle cx="387" cy="333.75" r="1.45" fill="#15508b"/>
<circle cx="383.75" cy="337.5" r="1.45" fill="#15508b"/>
<circle cx="390" cy="337.5" r="1.45" fill="#15508b"/>
<circle cx="382.5" cy="340" r="1.45" fill="#15508b"/>
<circle cx="386.25" cy="340" r="1.45" fill="#15508b"/>
<circle cx="389.5" cy="341.25" r="1.45" fill="#15508b"/>
<circle cx="385" cy="342.75" r="1.45" fill="#15508b"/>
<circle cx="392" cy="342" r="1.45" fill="#15508b"/>
<circle cx="387.5" cy="346.75" r="1.45" fill="#15508b"/>
<line x1="367.5" y1="315" x2="392.5" y2="315" stroke="#1a1a1a" stroke-width="0.9"/>
<text x="380" y="315.8" font-size="8.6" text-anchor="middle" textLength="16.3" lengthAdjust="spacing">****</text>
<text x="371.3" y="415.9" font-size="7.9" text-anchor="middle" textLength="13.1" lengthAdjust="spacingAndGlyphs">PBS</text>
<text x="391.3" y="415.9" font-size="7.9" text-anchor="middle" textLength="17.3" lengthAdjust="spacingAndGlyphs">PEG-</text>
<text x="390.2" y="425.1" font-size="7.9" text-anchor="middle" textLength="19.9" lengthAdjust="spacingAndGlyphs">rIL-29</text>
<text x="416.2" y="308.3" font-size="10.2" font-weight="bold" textLength="3.2" lengthAdjust="spacingAndGlyphs" fill="#000">I</text>
<line x1="457.7" y1="313.3" x2="457.7" y2="405" stroke="#1a1a1a" stroke-width="1.1"/>
<line x1="454.3" y1="404.5" x2="457.7" y2="404.5" stroke="#1a1a1a" stroke-width="1"/>
<text x="451.9" y="407.07" font-size="8.3" text-anchor="end">0</text>
<line x1="454.3" y1="386.36" x2="457.7" y2="386.36" stroke="#1a1a1a" stroke-width="1"/>
<text x="451.9" y="388.93" font-size="8.3" text-anchor="end" textLength="8.49" lengthAdjust="spacingAndGlyphs">20</text>
<line x1="454.3" y1="368.22" x2="457.7" y2="368.22" stroke="#1a1a1a" stroke-width="1"/>
<text x="451.9" y="370.79" font-size="8.3" text-anchor="end" textLength="8.49" lengthAdjust="spacingAndGlyphs">40</text>
<line x1="454.3" y1="350.08" x2="457.7" y2="350.08" stroke="#1a1a1a" stroke-width="1"/>
<text x="451.9" y="352.65" font-size="8.3" text-anchor="end" textLength="8.49" lengthAdjust="spacingAndGlyphs">60</text>
<line x1="454.3" y1="331.94" x2="457.7" y2="331.94" stroke="#1a1a1a" stroke-width="1"/>
<text x="451.9" y="334.51" font-size="8.3" text-anchor="end" textLength="8.49" lengthAdjust="spacingAndGlyphs">80</text>
<line x1="454.3" y1="313.8" x2="457.7" y2="313.8" stroke="#1a1a1a" stroke-width="1"/>
<text x="451.9" y="316.37" font-size="8.3" text-anchor="end" textLength="12.74" lengthAdjust="spacingAndGlyphs">100</text>
<line x1="457.2" y1="404.5" x2="497.5" y2="404.5" stroke="#1a1a1a" stroke-width="1.1"/>
<text x="434.6" y="359.2" font-size="9" text-anchor="middle" transform="rotate(-90 434.6 359.2)" textLength="99" lengthAdjust="spacingAndGlyphs">SI % of cells with Ki67<tspan font-size="6.6" dy="-3">+</tspan><tspan dy="3"> nuclei</tspan></text>
<path d="M464.5 404.5V356.88H475.7V404.5" stroke="#cc1236" stroke-width="1" fill="none"/>
<path d="M479.5 404.5V333.75H490.3V404.5" stroke="#15508b" stroke-width="1" fill="none"/>
<line x1="470.1" y1="353.25" x2="470.1" y2="360.24" stroke="#cc1236" stroke-width="0.9"/>
<line x1="467.9" y1="353.25" x2="472.3" y2="353.25" stroke="#cc1236" stroke-width="0.9"/>
<line x1="467.9" y1="360.24" x2="472.3" y2="360.24" stroke="#cc1236" stroke-width="0.9"/>
<line x1="484.9" y1="331.03" x2="484.9" y2="336.48" stroke="#15508b" stroke-width="0.9"/>
<line x1="482.7" y1="331.03" x2="487.1" y2="331.03" stroke="#15508b" stroke-width="0.9"/>
<line x1="482.7" y1="336.48" x2="487.1" y2="336.48" stroke="#15508b" stroke-width="0.9"/>
<circle cx="470.39" cy="333.39" r="1.45" fill="#cc1236"/>
<circle cx="470.39" cy="349.54" r="1.45" fill="#cc1236"/>
<circle cx="473.85" cy="351.85" r="1.45" fill="#cc1236"/>
<circle cx="466.93" cy="357.16" r="1.45" fill="#cc1236"/>
<circle cx="469.47" cy="357.16" r="1.45" fill="#cc1236"/>
<circle cx="473.39" cy="358.31" r="1.45" fill="#cc1236"/>
<circle cx="466.93" cy="361.77" r="1.45" fill="#cc1236"/>
<circle cx="471.54" cy="361.77" r="1.45" fill="#cc1236"/>
<circle cx="468.77" cy="364.54" r="1.45" fill="#cc1236"/>
<circle cx="474.31" cy="364.54" r="1.45" fill="#cc1236"/>
<circle cx="470.39" cy="370.78" r="1.45" fill="#cc1236"/>
<circle cx="484.7" cy="320.46" r="1.45" fill="#15508b"/>
<circle cx="481.93" cy="323" r="1.45" fill="#15508b"/>
<circle cx="487.01" cy="324.62" r="1.45" fill="#15508b"/>
<circle cx="481.24" cy="327.39" r="1.45" fill="#15508b"/>
<circle cx="485.85" cy="329.7" r="1.45" fill="#15508b"/>
<circle cx="487.7" cy="333.85" r="1.45" fill="#15508b"/>
<circle cx="480.78" cy="335" r="1.45" fill="#15508b"/>
<circle cx="485.85" cy="339.16" r="1.45" fill="#15508b"/>
<circle cx="483.08" cy="345.39" r="1.45" fill="#15508b"/>
<circle cx="487.7" cy="345.39" r="1.45" fill="#15508b"/>
<circle cx="482.16" cy="340.77" r="1.45" fill="#15508b"/>
<line x1="464.2" y1="313.8" x2="490" y2="313.8" stroke="#1a1a1a" stroke-width="0.9"/>
<text x="477.1" y="314.6" font-size="8.6" text-anchor="middle" textLength="12" lengthAdjust="spacing">***</text>
<text x="468.5" y="414.4" font-size="7.9" text-anchor="middle" textLength="13.1" lengthAdjust="spacingAndGlyphs">PBS</text>
<text x="489.5" y="414.4" font-size="7.9" text-anchor="middle" textLength="17.3" lengthAdjust="spacingAndGlyphs">PEG-</text>
<text x="488.6" y="423.6" font-size="7.9" text-anchor="middle" textLength="19.9" lengthAdjust="spacingAndGlyphs">rIL-29</text>
<text x="9" y="445.2" font-size="10.2" font-weight="bold" textLength="6.41" lengthAdjust="spacingAndGlyphs" fill="#000">J</text>
<line x1="36.3" y1="448.8" x2="36.3" y2="540.5" stroke="#1a1a1a" stroke-width="1.1"/>
<line x1="32.9" y1="540" x2="36.3" y2="540" stroke="#1a1a1a" stroke-width="1"/>
<text x="30.5" y="542.57" font-size="8.3" text-anchor="end">0</text>
<line x1="32.9" y1="502.15" x2="36.3" y2="502.15" stroke="#1a1a1a" stroke-width="1"/>
<text x="30.5" y="504.72" font-size="8.3" text-anchor="end">5</text>
<line x1="32.9" y1="464.3" x2="36.3" y2="464.3" stroke="#1a1a1a" stroke-width="1"/>
<text x="30.5" y="466.87" font-size="8.3" text-anchor="end" textLength="8.49" lengthAdjust="spacingAndGlyphs">10</text>
<line x1="35.8" y1="540" x2="100" y2="540" stroke="#1a1a1a" stroke-width="1.1"/>
<text x="17.2" y="495" font-size="9" text-anchor="middle" transform="rotate(-90 17.2 495)" textLength="51.5" lengthAdjust="spacingAndGlyphs">Organoids/field</text>
<text x="53.9" y="444.3" font-size="8.4" text-anchor="middle" textLength="22" lengthAdjust="spacingAndGlyphs">GVHD</text>
<text x="82.4" y="444.3" font-size="8.4" text-anchor="middle" textLength="16" lengthAdjust="spacingAndGlyphs">TCD</text>
<line x1="43" y1="450.5" x2="64.5" y2="450.5" stroke="#1a1a1a" stroke-width="0.9"/>
<text x="53.75" y="451.3" font-size="8.6" text-anchor="middle">*</text>
<line x1="71.3" y1="450.5" x2="93.8" y2="450.5" stroke="#1a1a1a" stroke-width="0.9"/>
<text x="82.55" y="451.3" font-size="8.6" text-anchor="middle">*</text>
<path d="M41.7 540V532.43H51.5V540" stroke="#cc1236" stroke-width="1" fill="none"/>
<path d="M55 540V503.29H64.5V540" stroke="#15508b" stroke-width="1" fill="none"/>
<path d="M70.5 540V499.12H80V540" stroke="#cc1236" stroke-width="1" fill="none"/>
<path d="M83.7 540V472.63H93.3V540" stroke="#15508b" stroke-width="1" fill="none"/>
<line x1="46.6" y1="529.4" x2="46.6" y2="535.46" stroke="#cc1236" stroke-width="0.9"/>
<line x1="44.8" y1="529.4" x2="48.4" y2="529.4" stroke="#cc1236" stroke-width="0.9"/>
<line x1="44.8" y1="535.46" x2="48.4" y2="535.46" stroke="#cc1236" stroke-width="0.9"/>
<line x1="59.8" y1="502.15" x2="59.8" y2="504.42" stroke="#15508b" stroke-width="0.9"/>
<line x1="58" y1="502.15" x2="61.6" y2="502.15" stroke="#15508b" stroke-width="0.9"/>
<line x1="58" y1="504.42" x2="61.6" y2="504.42" stroke="#15508b" stroke-width="0.9"/>
<line x1="75.3" y1="497.61" x2="75.3" y2="500.64" stroke="#cc1236" stroke-width="0.9"/>
<line x1="73.5" y1="497.61" x2="77.1" y2="497.61" stroke="#cc1236" stroke-width="0.9"/>
<line x1="73.5" y1="500.64" x2="77.1" y2="500.64" stroke="#cc1236" stroke-width="0.9"/>
<line x1="88.5" y1="466.95" x2="88.5" y2="478.3" stroke="#15508b" stroke-width="0.9"/>
<line x1="86.7" y1="466.95" x2="90.3" y2="466.95" stroke="#15508b" stroke-width="0.9"/>
<line x1="86.7" y1="478.3" x2="90.3" y2="478.3" stroke="#15508b" stroke-width="0.9"/>
<circle cx="46.75" cy="527" r="1.45" fill="#cc1236"/>
<circle cx="43.25" cy="535" r="1.45" fill="#cc1236"/>
<circle cx="50" cy="533.75" r="1.45" fill="#cc1236"/>
<circle cx="72.5" cy="497.75" r="1.45" fill="#cc1236"/>
<circle cx="75.75" cy="495.75" r="1.45" fill="#cc1236"/>
<circle cx="78.75" cy="498.25" r="1.45" fill="#cc1236"/>
<circle cx="55.5" cy="500" r="1.45" fill="#15508b"/>
<circle cx="59.25" cy="501.25" r="1.45" fill="#15508b"/>
<circle cx="63.25" cy="501.25" r="1.45" fill="#15508b"/>
<circle cx="59.25" cy="506.25" r="1.45" fill="#15508b"/>
<circle cx="88" cy="458.75" r="1.45" fill="#15508b"/>
<circle cx="85" cy="472.5" r="1.45" fill="#15508b"/>
<circle cx="92" cy="473.25" r="1.45" fill="#15508b"/>
<circle cx="88" cy="485" r="1.45" fill="#15508b"/>
<text x="49" y="546.7" font-size="6" text-anchor="end" transform="rotate(-43 49 546.7)">PBS</text>
<text x="62.2" y="546.7" font-size="6" text-anchor="end" transform="rotate(-43 62.2 546.7)" textLength="31.5" lengthAdjust="spacingAndGlyphs">PEG-rIL-29</text>
<text x="77.8" y="546.7" font-size="6" text-anchor="end" transform="rotate(-43 77.8 546.7)">PBS</text>
<text x="90.8" y="546.7" font-size="6" text-anchor="end" transform="rotate(-43 90.8 546.7)" textLength="31.5" lengthAdjust="spacingAndGlyphs">PEG-rIL-29</text>
<text x="427.8" y="444.3" font-size="10.2" font-weight="bold" textLength="7.04" lengthAdjust="spacingAndGlyphs" fill="#000">L</text>
<line x1="457.7" y1="447.5" x2="457.7" y2="539.3" stroke="#1a1a1a" stroke-width="1.1"/>
<line x1="454.3" y1="538.8" x2="457.7" y2="538.8" stroke="#1a1a1a" stroke-width="1"/>
<text x="451.9" y="541.37" font-size="8.3" text-anchor="end">0</text>
<line x1="454.3" y1="516.1" x2="457.7" y2="516.1" stroke="#1a1a1a" stroke-width="1"/>
<text x="451.9" y="518.67" font-size="8.3" text-anchor="end">2</text>
<line x1="454.3" y1="493.4" x2="457.7" y2="493.4" stroke="#1a1a1a" stroke-width="1"/>
<text x="451.9" y="495.97" font-size="8.3" text-anchor="end">4</text>
<line x1="454.3" y1="470.7" x2="457.7" y2="470.7" stroke="#1a1a1a" stroke-width="1"/>
<text x="451.9" y="473.27" font-size="8.3" text-anchor="end">6</text>
<line x1="454.3" y1="448" x2="457.7" y2="448" stroke="#1a1a1a" stroke-width="1"/>
<text x="451.9" y="450.57" font-size="8.3" text-anchor="end">8</text>
<line x1="457.2" y1="538.8" x2="497.5" y2="538.8" stroke="#1a1a1a" stroke-width="1.1"/>
<text x="435" y="493.9" font-size="9" text-anchor="middle" transform="rotate(-90 435 493.9)" textLength="71" lengthAdjust="spacingAndGlyphs">% Lgr5 GFP<tspan font-size="6.6" dy="-3">+</tspan><tspan dy="3"> EpCAM</tspan><tspan font-size="6.6" dy="-3">+</tspan></text>
<path d="M464.7 538.8V528.93H476.4V538.8" stroke="#cc1236" stroke-width="1" fill="none"/>
<path d="M479.7 538.8V500.78H490.3V538.8" stroke="#15508b" stroke-width="1" fill="none"/>
<line x1="470.5" y1="525.41" x2="470.5" y2="532.44" stroke="#cc1236" stroke-width="0.9"/>
<line x1="468.3" y1="525.41" x2="472.7" y2="525.41" stroke="#cc1236" stroke-width="0.9"/>
<line x1="468.3" y1="532.44" x2="472.7" y2="532.44" stroke="#cc1236" stroke-width="0.9"/>
<line x1="485" y1="493.97" x2="485" y2="507.02" stroke="#15508b" stroke-width="0.9"/>
<line x1="482.8" y1="493.97" x2="487.2" y2="493.97" stroke="#15508b" stroke-width="0.9"/>
<line x1="482.8" y1="507.02" x2="487.2" y2="507.02" stroke="#15508b" stroke-width="0.9"/>
<circle cx="470.85" cy="508.54" r="1.6" fill="#cc1236"/>
<circle cx="470.39" cy="521.47" r="1.6" fill="#cc1236"/>
<circle cx="469.24" cy="528.85" r="1.6" fill="#cc1236"/>
<circle cx="473.39" cy="529.32" r="1.6" fill="#cc1236"/>
<circle cx="466.93" cy="531.62" r="1.6" fill="#cc1236"/>
<circle cx="470.39" cy="532.32" r="1.6" fill="#cc1236"/>
<circle cx="473.85" cy="532.32" r="1.6" fill="#cc1236"/>
<circle cx="468.08" cy="535.32" r="1.6" fill="#cc1236"/>
<circle cx="472.01" cy="535.32" r="1.6" fill="#cc1236"/>
<circle cx="475.01" cy="534.62" r="1.6" fill="#cc1236"/>
<circle cx="484.93" cy="461.46" r="1.6" fill="#15508b"/>
<circle cx="480.78" cy="493.54" r="1.6" fill="#15508b"/>
<circle cx="489.55" cy="496.08" r="1.6" fill="#15508b"/>
<circle cx="485.85" cy="500.01" r="1.6" fill="#15508b"/>
<circle cx="484.7" cy="505.78" r="1.6" fill="#15508b"/>
<circle cx="485.85" cy="511.55" r="1.6" fill="#15508b"/>
<circle cx="483.08" cy="515.7" r="1.6" fill="#15508b"/>
<circle cx="484.93" cy="521.24" r="1.6" fill="#15508b"/>
<line x1="468" y1="448" x2="486" y2="448" stroke="#1a1a1a" stroke-width="0.9"/>
<text x="477" y="448.8" font-size="8.6" text-anchor="middle" textLength="12" lengthAdjust="spacing">***</text>
<text x="468.8" y="548.8" font-size="7.9" text-anchor="middle" textLength="13.1" lengthAdjust="spacingAndGlyphs">PBS</text>
<text x="490" y="548.8" font-size="7.9" text-anchor="middle" textLength="17.3" lengthAdjust="spacingAndGlyphs">PEG-</text>
<text x="489" y="558" font-size="7.9" text-anchor="middle" textLength="19.9" lengthAdjust="spacingAndGlyphs">rIL-29</text>
<defs>
<filter id="nzP" x="0" y="0" width="100%" height="100%" color-interpolation-filters="sRGB"><feTurbulence type="fractalNoise" baseFrequency="0.38" numOctaves="2" seed="3"/><feColorMatrix type="matrix" values="0 0 0 0 0.56  0 0 0 0 0.3  0 0 0 0 0.86  2.0 0 0 0 -0.8"/></filter>
<filter id="nzW" x="0" y="0" width="100%" height="100%" color-interpolation-filters="sRGB"><feTurbulence type="fractalNoise" baseFrequency="0.22 0.16" numOctaves="2" seed="11"/><feColorMatrix type="matrix" values="0 0 0 0 1  0 0 0 0 0.93  0 0 0 0 1  0 3.4 0 0 -1.75"/></filter>
<filter id="nzL" x="0" y="0" width="100%" height="100%" color-interpolation-filters="sRGB"><feTurbulence type="fractalNoise" baseFrequency="0.6" numOctaves="2" seed="5"/><feColorMatrix type="matrix" values="0 0 0 0 0.62  0 0 0 0 0.66  0 0 0 0 0.84  2.4 0 0 0 -0.95"/></filter>
<filter id="nzB" x="0" y="0" width="100%" height="100%" color-interpolation-filters="sRGB"><feTurbulence type="fractalNoise" baseFrequency="0.7" numOctaves="2" seed="9"/><feColorMatrix type="matrix" values="0 0 0 0 0.62  0 0 0 0 0.3  0 0 0 0 0.2  3 0 0 0 -1.35"/></filter>
<filter id="nzK" x="0" y="0" width="100%" height="100%" color-interpolation-filters="sRGB"><feTurbulence type="fractalNoise" baseFrequency="0.32" numOctaves="2" seed="21"/><feColorMatrix type="matrix" values="0 0 0 0 0.3  0 0 0 0 0.26  0 0 0 0 0.85  2.6 0 0 0 -1.05"/></filter>
<filter id="nzO" x="0" y="0" width="100%" height="100%" color-interpolation-filters="sRGB"><feTurbulence type="fractalNoise" baseFrequency="0.3" numOctaves="2" seed="31"/><feColorMatrix type="matrix" values="0 0 0 0 0.58  0 0 0 0 0.4  0 0 0 0 0.1  0 2.8 0 0 -1.2"/></filter>
<filter id="nzD" x="0" y="0" width="100%" height="100%" color-interpolation-filters="sRGB"><feTurbulence type="fractalNoise" baseFrequency="0.2" numOctaves="2" seed="41"/><feColorMatrix type="matrix" values="0 0 0 0 0.04  0 0 0 0 0.02  0 0 0 0 0.12  0 0 3.2 0 -1.3"/></filter>
<filter id="nzV" x="0" y="0" width="100%" height="100%" color-interpolation-filters="sRGB"><feTurbulence type="fractalNoise" baseFrequency="0.35 0.04" numOctaves="2" seed="17"/><feColorMatrix type="matrix" values="0 0 0 0 0.1  0 0 0 0 0.06  0 0 0 0 0.22  3 0 0 0 -1.3"/></filter>
<filter id="texL" x="0" y="0" width="100%" height="100%" color-interpolation-filters="sRGB"><feTurbulence type="fractalNoise" baseFrequency="0.6" numOctaves="2" seed="5" result="n"/><feColorMatrix in="n" type="matrix" values="0 0 0 0 0.66  0 0 0 0 0.69  0 0 0 0 0.86  1.5 0 0 0 -0.66" result="c"/><feComposite in="c" in2="SourceAlpha" operator="in" result="ci"/><feMerge><feMergeNode in="SourceGraphic"/><feMergeNode in="ci"/></feMerge></filter>
<filter id="nzPk" x="0" y="0" width="100%" height="100%" color-interpolation-filters="sRGB"><feTurbulence type="fractalNoise" baseFrequency="0.42" numOctaves="2" seed="77"/><feColorMatrix type="matrix" values="0 0 0 0 0.95  0 0 0 0 0.66  0 0 0 0 0.96  0 2.2 0 0 -0.85"/></filter>
<filter id="nzK2" x="0" y="0" width="100%" height="100%" color-interpolation-filters="sRGB"><feTurbulence type="fractalNoise" baseFrequency="0.3 0.12" numOctaves="2" seed="23"/><feColorMatrix type="matrix" values="0 0 0 0 0.55  0 0 0 0 0.4  0 0 0 0 0.88  2.6 0 0 0 -1.05"/></filter>
<filter id="bl0" x="-5%" y="-5%" width="110%" height="110%"><feGaussianBlur stdDeviation="0.45"/></filter>
<filter id="bl1" x="-10%" y="-10%" width="120%" height="120%"><feGaussianBlur stdDeviation="0.7"/></filter>
<filter id="bl2" x="-60%" y="-60%" width="220%" height="220%"><feGaussianBlur stdDeviation="1.3"/></filter>
</defs>
<text x="9" y="163.3" font-size="10.2" font-weight="bold" textLength="8.32" lengthAdjust="spacingAndGlyphs" fill="#000">D</text>
<text x="76.3" y="163.8" font-size="8.8" text-anchor="middle" textLength="25" lengthAdjust="spacingAndGlyphs">Colon</text>
<text x="147.2" y="163.8" font-size="8.8" text-anchor="middle" textLength="77.5" lengthAdjust="spacingAndGlyphs">Small intestine (SI)</text>
<text x="35" y="202.6" font-size="8.6" text-anchor="end">PBS</text>
<text x="35" y="243" font-size="8.6" text-anchor="end">PEG-</text>
<text x="35" y="255.6" font-size="8.6" text-anchor="end">rIL-29</text>
<text x="39.2" y="281.9" font-size="7.9" textLength="22.9" lengthAdjust="spacingAndGlyphs">100µm</text>
<clipPath id="cp1"><rect x="38.9" y="167.2" width="69.4" height="51.2"/></clipPath>
<g clip-path="url(#cp1)">
<rect x="38.9" y="167.2" width="69.4" height="51.2" fill="#c88be8"/>
<g filter="url(#bl0)">
<polygon points="38.9,167.2 108.3,167.2 108.3,172.32 70.13,171.3 38.9,175.39" fill="#d5a8df"/>
<rect x="38.9" y="167.2" width="69.4" height="40.96" filter="url(#nzP)" opacity="0.85"/>
<rect x="38.9" y="167.2" width="69.4" height="40.96" filter="url(#nzPk)" opacity="0.7"/>
<rect x="63.19" y="167.2" width="45.11" height="21.5" filter="url(#nzW)" opacity="0.9"/>
<polygon points="38.9,205.09 59.72,206.11 80.54,205.09 108.3,206.11 108.3,218.4 38.9,218.4" fill="#e6a4e6"/>
<rect x="38.9" y="203.04" width="69.4" height="8.19" filter="url(#nzP)" opacity="0.3"/>
<polygon points="38.9,212.26 59.72,209.7 77.07,209.7 94.42,211.74 108.3,215.33 108.3,218.4 38.9,218.4" fill="#e98fde"/>
<polyline points="38.9,211.23 56.25,208.93 73.6,208.67 90.95,210.46 108.3,214.82" fill="none" stroke="#fbeefa" stroke-width="1.4"/>
<polygon points="70.13,218.4 87.48,216.1 108.3,216.61 108.3,218.4" fill="#f7e4f5"/>
<polygon points="38.9,216.86 70.13,218.4 38.9,218.4" fill="#f3c6ee"/>
<ellipse cx="43.76" cy="178.46" rx="1.3" ry="2.5" fill="#fff" opacity="0.8" transform="rotate(20 43.76 178.46)"/>
<ellipse cx="73.6" cy="191.26" rx="1.3" ry="2.5" fill="#fff" opacity="0.8" transform="rotate(20 73.6 191.26)"/>
<ellipse cx="81.93" cy="188.7" rx="1.3" ry="2.5" fill="#fff" opacity="0.8" transform="rotate(20 81.93 188.7)"/>
<ellipse cx="93.03" cy="186.14" rx="1.3" ry="2.5" fill="#fff" opacity="0.8" transform="rotate(20 93.03 186.14)"/>
<ellipse cx="99.28" cy="184.1" rx="1.3" ry="2.5" fill="#fff" opacity="0.8" transform="rotate(20 99.28 184.1)"/>
</g>
<rect x="42.6" y="214.7" width="11.2" height="1.8" fill="#fff"/>
</g>
<rect x="38.9" y="167.2" width="69.4" height="51.2" fill="none" stroke="#a9a9a9" stroke-width="0.9"/>
<clipPath id="cp2"><rect x="111.3" y="167.2" width="69.5" height="51.2"/></clipPath>
<g clip-path="url(#cp2)">
<rect x="111.3" y="167.2" width="69.5" height="51.2" fill="#c688e6"/>
<g filter="url(#bl0)">
<rect x="111.3" y="167.2" width="69.5" height="51.2" filter="url(#nzP)" opacity="0.85"/>
<rect x="111.3" y="167.2" width="69.5" height="51.2" filter="url(#nzPk)" opacity="0.7"/>
<rect x="111.3" y="167.2" width="69.5" height="21.5" filter="url(#nzW)" opacity="1"/>
<rect x="111.3" y="167.2" width="69.5" height="13.31" filter="url(#nzW)" opacity="0.7"/>
<polygon points="111.3,206.11 132.15,208.16 153,207.14 180.8,209.18 180.8,218.4 111.3,218.4" fill="#e68fe2"/>
<polygon points="111.3,212.26 139.1,213.79 180.8,213.28 180.8,218.4 111.3,218.4" fill="#f0a0ea"/>
<rect x="111.3" y="204.06" width="69.5" height="14.34" filter="url(#nzP)" opacity="0.3"/>
</g>
<rect x="114.6" y="214.7" width="11.2" height="1.8" fill="#fff"/>
</g>
<rect x="111.3" y="167.2" width="69.5" height="51.2" fill="none" stroke="#a9a9a9" stroke-width="0.9"/>
<clipPath id="cp3"><rect x="38.9" y="220.6" width="69.4" height="52.4"/></clipPath>
<g clip-path="url(#cp3)">
<rect x="38.9" y="220.6" width="69.4" height="52.4" fill="#c58ae6"/>
<g filter="url(#bl0)">
<rect x="38.9" y="220.6" width="69.4" height="36.68" filter="url(#nzP)" opacity="0.85"/>
<rect x="38.9" y="220.6" width="69.4" height="36.68" filter="url(#nzPk)" opacity="0.6"/>
<path d="M41.4 222.0L40.4 236.9M49.5 237.7L49.7 246.1M63.2 223.8L62.5 242.2M69.8 229.8L70.8 241.9M73.2 226.5L73.8 245.7M80.8 232.5L82.1 243.3M89.7 237.7L88.8 247.3M89.8 230.8L89.1 248.7M100.0 229.8L99.6 242.4M101.5 237.4L101.0 247.7" stroke="#fbf2fb" stroke-width="1.12" opacity="0.57" stroke-linecap="round" fill="none"/>
<path d="M58.4 228.4L58.2 240.0M60.3 225.1L58.8 235.1M64.6 224.8L63.4 237.7M67.6 230.7L67.8 250.1M75.3 228.5L75.9 240.1M76.6 226.5L74.9 239.0M79.0 228.3L78.1 243.5M83.2 233.4L82.0 246.1M87.2 231.8L86.7 243.0M96.4 224.4L97.2 243.7M98.8 222.2L99.8 239.5M106.0 225.2L104.8 243.6" stroke="#fbf2fb" stroke-width="1.4" opacity="0.72" stroke-linecap="round" fill="none"/>
<path d="M39.6 227.8L38.2 237.5M44.5 240.3L44.3 249.0M46.1 228.0L47.7 238.5M51.1 238.9L50.5 248.5M53.2 226.2L52.8 241.1M56.7 226.6L56.7 241.3M93.1 228.4L94.6 240.8M103.9 227.9L105.5 242.6" stroke="#fbf2fb" stroke-width="1.68" opacity="0.88" stroke-linecap="round" fill="none"/>
<path d="M45.8 222.0L44.4 229.7M56.0 221.5L56.4 230.7M58.7 223.1L57.5 229.7M61.6 221.4L60.6 230.7M77.0 220.7L76.1 231.0M83.5 221.5L84.5 229.3M86.9 223.4L87.6 229.3M92.3 220.8L93.1 228.1M107.1 220.8L106.9 228.8" stroke="#fbf2fb" stroke-width="1.44" opacity="0.57" stroke-linecap="round" fill="none"/>
<path d="M42.2 221.7L40.9 230.1M68.4 220.6L69.4 229.7M98.4 220.6L98.9 230.2" stroke="#fbf2fb" stroke-width="1.8" opacity="0.7" stroke-linecap="round" fill="none"/>
<path d="M48.4 221.3L49.1 230.4M49.4 220.7L48.2 230.9M66.0 220.8L65.0 230.4M71.0 220.7L70.8 229.5M78.7 222.4L80.4 229.4M89.1 221.5L88.6 227.7M97.9 222.7L97.7 228.1M101.9 222.9L102.9 231.0" stroke="#fbf2fb" stroke-width="2.16" opacity="0.83" stroke-linecap="round" fill="none"/>
<polygon points="38.9,255.18 108.3,254.14 108.3,273 38.9,273" fill="#e8a6e6"/>
<polygon points="38.9,258.33 108.3,257.8 108.3,266.19 38.9,266.19" fill="#e88bdd"/>
<polyline points="38.9,256.49 73.6,255.97 108.3,255.45" fill="none" stroke="#f8e6f6" stroke-width="0.9"/>
<polygon points="38.9,265.66 73.6,264.88 108.3,266.19 108.3,273 38.9,273" fill="#f6e2f4"/>
</g>
<rect x="42.6" y="268.4" width="11.2" height="1.8" fill="#fff"/>
</g>
<rect x="38.9" y="220.6" width="69.4" height="52.4" fill="none" stroke="#a9a9a9" stroke-width="0.9"/>
<clipPath id="cp4"><rect x="111.3" y="220.6" width="69.5" height="52.4"/></clipPath>
<g clip-path="url(#cp4)">
<rect x="111.3" y="220.6" width="69.5" height="52.4" fill="#f6ecf7"/>
<g filter="url(#bl0)">
<polygon points="111.3,242.61 132.15,246.8 159.95,246.8 180.8,241.56 180.8,262.52 111.3,262.52" fill="#c891e6"/>
<rect x="111.06" y="219.31" width="5.91" height="34.57" rx="3" fill="#e6c8f2" stroke="#b07cd6" stroke-width="1.3" transform="rotate(-2.9 114.01 253.88)"/>
<rect x="118.45" y="221.67" width="5.91" height="32.24" rx="3" fill="#e6c8f2" stroke="#b07cd6" stroke-width="1.3" transform="rotate(-1.13 121.4 253.9)"/>
<rect x="126.49" y="223.7" width="5.91" height="30.5" rx="3" fill="#e6c8f2" stroke="#b07cd6" stroke-width="1.3" transform="rotate(-0.59 129.45 254.2)"/>
<rect x="135.32" y="223.67" width="5.91" height="30.74" rx="3" fill="#e6c8f2" stroke="#b07cd6" stroke-width="1.3" transform="rotate(5.85 138.28 254.41)"/>
<rect x="143.41" y="221.32" width="5.91" height="33.41" rx="3" fill="#e6c8f2" stroke="#b07cd6" stroke-width="1.3" transform="rotate(-6.74 146.37 254.73)"/>
<rect x="151.53" y="219.13" width="5.91" height="33.97" rx="3" fill="#e6c8f2" stroke="#b07cd6" stroke-width="1.3" transform="rotate(4.19 154.48 253.1)"/>
<rect x="159.36" y="220.96" width="5.91" height="34.41" rx="3" fill="#e6c8f2" stroke="#b07cd6" stroke-width="1.3" transform="rotate(0.79 162.31 255.37)"/>
<rect x="167.77" y="221.24" width="5.91" height="33.59" rx="3" fill="#e6c8f2" stroke="#b07cd6" stroke-width="1.3" transform="rotate(3.98 170.72 254.83)"/>
<rect x="175.67" y="221.5" width="5.91" height="32.37" rx="3" fill="#e6c8f2" stroke="#b07cd6" stroke-width="1.3" transform="rotate(-3.12 178.62 253.87)"/>
<rect x="111.3" y="220.6" width="69.5" height="41.92" filter="url(#nzP)" opacity="0.45"/>
<polygon points="111.3,257.28 128.68,261.47 153,261.47 180.8,254.14 180.8,273 111.3,273" fill="#eeb4ec"/>
<rect x="111.3" y="252.04" width="69.5" height="18.34" filter="url(#nzP)" opacity="0.25"/>
<polygon points="111.3,264.62 132.15,268.81 153,268.81 180.8,262.52 180.8,273 111.3,273" fill="#fbeffa"/>
</g>
<rect x="114.6" y="268.4" width="11.2" height="1.8" fill="#fff"/>
</g>
<rect x="111.3" y="220.6" width="69.5" height="52.4" fill="none" stroke="#a9a9a9" stroke-width="0.9"/>
<text x="123.2" y="308.3" font-size="10.2" font-weight="bold" textLength="8.97" lengthAdjust="spacingAndGlyphs" fill="#000">G</text>
<text x="182.7" y="305.8" font-size="8.8" text-anchor="middle" textLength="25" lengthAdjust="spacingAndGlyphs">Colon</text>
<text x="256.8" y="305.8" font-size="8.8" text-anchor="middle" textLength="77.5" lengthAdjust="spacingAndGlyphs">Small intestine (SI)</text>
<text x="136.3" y="340.6" font-size="8.6" text-anchor="end">PBS</text>
<text x="136.3" y="388.6" font-size="8.6" text-anchor="end">PEG-</text>
<text x="136.3" y="401.2" font-size="8.6" text-anchor="end">rIL-29</text>
<text x="140.2" y="426.6" font-size="7.9" textLength="22.9" lengthAdjust="spacingAndGlyphs">200µm</text>
<clipPath id="cp5"><rect x="140" y="312.3" width="76.6" height="52.1"/></clipPath>
<g clip-path="url(#cp5)">
<rect x="140" y="312.3" width="76.6" height="52.1" fill="#efedf0"/>
<g filter="url(#bl0)">
<g filter="url(#texL)">
<polygon points="140,312.3 182.9,312.3 170.64,320.64 155.32,328.97 142.3,335.22 140,335.22" fill="#e6e6f0"/>
<polygon points="140,341.48 162.98,333.14 185.96,325.32 195.15,327.93 216.6,332.1 216.6,357.11 185.96,360.75 162.98,364.4 140,364.4" fill="#d5d9ec"/>
<polygon points="140,341.48 162.98,333.14 185.96,325.32 195.15,327.93 216.6,332.1 216.6,343.56 178.3,345.64 155.32,350.85 140,353.98" fill="#dddfee"/>
</g>
<path d="M140.7 346.5L141.1 351.2M141.9 345.0L142.0 349.7M146.5 343.6L147.2 346.5M150.5 344.4L151.1 351.5M151.9 346.9L151.2 349.5M153.7 343.3L153.6 345.7M157.0 340.5L157.2 344.8M157.5 346.3L157.0 349.6M158.0 341.0L158.1 348.0M159.0 344.3L158.7 349.0M160.4 347.3L160.4 349.5M163.6 338.3L164.3 341.1M163.8 338.8L163.7 344.1M167.5 338.3L167.1 340.6M168.1 340.7L168.1 344.8M169.1 341.2L169.6 347.3M170.1 345.0L169.8 347.3M174.0 337.3L174.4 342.7M174.8 337.7L175.3 343.7M176.3 343.2L176.5 345.8M187.0 336.9L187.1 343.9M191.1 334.3L190.5 340.3M195.3 339.0L195.3 342.4M196.5 335.5L196.1 342.1M198.6 334.5L198.7 339.1M202.2 340.0L202.0 343.1M203.3 335.3L202.8 339.3M205.6 336.0L206.2 340.8M208.0 334.9L207.3 341.4M216.3 335.5L215.9 342.2" stroke="#a4523c" stroke-width="0.48" opacity="0.39" stroke-linecap="round" fill="none"/>
<path d="M144.2 347.1L144.0 350.2M148.4 346.3L148.4 349.2M148.9 347.7L148.7 351.6M152.1 345.6L152.8 348.4M153.1 343.7L153.1 348.5M156.0 341.3L156.0 343.8M164.8 338.5L165.0 345.0M166.0 342.5L165.6 348.2M172.2 337.6L172.5 342.8M180.6 337.1L180.6 340.4M183.1 339.1L183.1 344.4M183.6 335.5L183.9 341.1M185.3 333.6L184.5 340.8M186.0 333.2L186.8 337.9M188.9 334.7L188.5 341.5M189.7 333.8L190.0 336.7M190.5 338.9L190.2 341.8M192.5 336.5L192.3 343.3M193.1 337.5L193.8 344.1M199.8 337.1L199.9 342.6M200.5 338.1L200.5 343.5M201.7 337.6L202.1 342.0M204.5 337.3L204.5 341.5M204.9 336.0L205.0 342.0M206.5 335.8L206.7 342.6M208.5 335.1L209.2 341.2M208.9 335.0L209.4 339.1M211.5 335.8L211.8 338.5M213.1 336.6L212.6 342.1M213.6 335.8L213.0 340.2M214.9 335.1L214.6 340.0" stroke="#a4523c" stroke-width="0.6" opacity="0.57" stroke-linecap="round" fill="none"/>
<path d="M141.2 346.3L141.2 351.6M143.1 343.9L142.8 350.6M144.6 348.8L144.0 351.3M145.4 344.7L146.0 347.4M147.4 343.4L146.9 346.0M149.8 347.5L149.6 351.9M154.7 348.1L154.3 350.3M160.9 343.0L161.1 346.3M161.6 339.7L161.5 344.4M162.4 344.3L161.9 347.5M166.8 337.8L167.5 341.2M170.7 337.1L170.2 344.2M172.5 338.0L171.8 343.8M175.6 336.1L175.9 341.2M176.9 341.2L176.2 345.6M178.0 341.1L178.5 345.7M179.1 338.4L179.1 345.2M179.8 341.6L179.4 345.0M180.9 337.4L180.2 344.2M182.3 341.5L181.9 344.0M184.9 337.7L185.3 341.3M188.3 338.5L188.5 341.9M194.3 340.4L194.6 344.0M196.0 336.2L195.3 342.4M197.1 336.3L197.5 342.2M199.1 338.3L199.5 342.1M210.6 339.1L210.1 342.5M211.6 336.8L211.0 342.9M214.5 336.6L214.1 341.7" stroke="#a4523c" stroke-width="0.72" opacity="0.76" stroke-linecap="round" fill="none"/>
<path d="M140.1 350.4L139.4 352.8M149.3 349.2L148.8 350.9M153.5 347.2L152.8 350.0M158.1 346.8L157.5 349.9M174.0 344.9L173.4 346.5M192.7 341.6L192.1 343.5M199.9 340.6L200.3 343.3M205.6 339.6L206.3 342.8M216.0 340.2L215.8 342.5" stroke="#a4523c" stroke-width="0.56" opacity="0.48" stroke-linecap="round" fill="none"/>
<path d="M157.2 348.5L156.5 350.3M162.0 345.7L162.5 347.9M163.8 346.9L163.2 348.7M166.7 344.2L166.3 346.0M169.6 343.6L169.2 345.9M175.0 342.3L174.7 345.5M184.0 341.4L183.6 344.9M186.5 341.8L186.1 344.8M188.8 341.0L188.8 344.2M197.9 340.2L198.3 342.9M207.0 339.7L207.0 343.1" stroke="#a4523c" stroke-width="0.7" opacity="0.65" stroke-linecap="round" fill="none"/>
<path d="M142.9 349.9L142.5 352.9M144.6 349.8L144.9 352.1M146.6 349.4L147.0 352.4M150.0 348.3L149.7 350.3M152.4 349.0L152.3 350.9M160.9 347.0L161.6 349.2M168.3 344.1L167.7 346.3M172.1 343.5L171.7 346.0M177.0 342.4L177.4 345.9M178.9 343.4L179.3 345.6M182.0 341.6L181.4 343.3M185.6 342.1L184.9 343.9M191.2 342.4L190.5 344.5M194.1 342.4L194.1 344.1M197.4 341.9L197.3 343.8M202.1 341.2L201.8 343.2M203.6 341.3L203.2 343.0M209.0 340.7L208.5 342.9M211.2 340.0L210.7 341.7M213.3 338.7L212.7 341.9" stroke="#a4523c" stroke-width="0.84" opacity="0.82" stroke-linecap="round" fill="none"/>
<polygon points="182.13,364.4 216.6,357.11 216.6,364.4" fill="#efedf0"/>
</g>
<rect x="143.6" y="359.2" width="14.6" height="2" fill="#fff"/>
</g>
<rect x="140" y="312.3" width="76.6" height="52.1" fill="none" stroke="#9a9a9a" stroke-width="0.9"/>
<clipPath id="cp6"><rect x="218.4" y="312.3" width="75.9" height="52.1"/></clipPath>
<g clip-path="url(#cp6)">
<rect x="218.4" y="312.3" width="75.9" height="52.1" fill="#efedf0"/>
<g filter="url(#bl0)">
<g filter="url(#texL)">
<polygon points="218.4,312.3 247.24,312.3 245.72,321.68 263.94,332.1 294.3,343.56 294.3,364.4 283.67,364.4 279.12,353.98 256.35,352.42 218.4,347.73" fill="#dddfee"/>
</g>
<circle cx="227.69" cy="320.53" r="0.76" fill="#a4523c" opacity="0.78"/>
<circle cx="227.66" cy="312.67" r="0.6" fill="#a4523c" opacity="0.79"/>
<circle cx="226.83" cy="322.38" r="0.52" fill="#a4523c" opacity="0.85"/>
<circle cx="243.36" cy="314.34" r="0.46" fill="#a4523c" opacity="0.65"/>
<circle cx="243.45" cy="332.95" r="0.45" fill="#a4523c" opacity="0.53"/>
<circle cx="231.3" cy="322.24" r="0.97" fill="#a4523c" opacity="0.61"/>
<circle cx="244.2" cy="323.84" r="0.65" fill="#a4523c" opacity="0.88"/>
<circle cx="227.38" cy="335.82" r="0.52" fill="#a4523c" opacity="0.45"/>
<circle cx="225.8" cy="312.78" r="0.73" fill="#a4523c" opacity="0.77"/>
<circle cx="246.73" cy="324.28" r="0.7" fill="#a4523c" opacity="0.52"/>
<circle cx="231.3" cy="329.13" r="0.96" fill="#a4523c" opacity="0.5"/>
<circle cx="240.74" cy="338.3" r="0.98" fill="#a4523c" opacity="0.55"/>
<circle cx="224.17" cy="342.76" r="0.99" fill="#a4523c" opacity="0.69"/>
<circle cx="220.83" cy="342.22" r="0.63" fill="#a4523c" opacity="0.9"/>
<circle cx="246.65" cy="338.93" r="0.5" fill="#a4523c" opacity="0.84"/>
<circle cx="228.51" cy="325.37" r="0.91" fill="#a4523c" opacity="0.86"/>
<circle cx="226.73" cy="319.35" r="0.64" fill="#a4523c" opacity="0.71"/>
<circle cx="235.87" cy="316.27" r="0.55" fill="#a4523c" opacity="0.81"/>
<circle cx="244.01" cy="336.77" r="0.42" fill="#a4523c" opacity="0.87"/>
<circle cx="223.76" cy="331.67" r="0.73" fill="#a4523c" opacity="0.76"/>
<circle cx="232.34" cy="325.87" r="0.75" fill="#a4523c" opacity="0.66"/>
<circle cx="248.4" cy="326.73" r="0.66" fill="#a4523c" opacity="0.46"/>
<circle cx="246.58" cy="328.11" r="0.54" fill="#a4523c" opacity="0.83"/>
<circle cx="226.58" cy="327.59" r="0.46" fill="#a4523c" opacity="0.51"/>
<circle cx="238.01" cy="315.26" r="0.67" fill="#a4523c" opacity="0.71"/>
<circle cx="220.26" cy="332.86" r="0.45" fill="#a4523c" opacity="0.82"/>
<circle cx="253.81" cy="328.82" r="0.43" fill="#a4523c" opacity="0.7"/>
<circle cx="235.61" cy="343.01" r="0.48" fill="#a4523c" opacity="0.88"/>
<circle cx="263.76" cy="335.95" r="0.89" fill="#a4523c" opacity="0.55"/>
<circle cx="261.97" cy="341.89" r="0.5" fill="#a4523c" opacity="0.84"/>
<circle cx="234.38" cy="336.73" r="0.5" fill="#a4523c" opacity="0.9"/>
<circle cx="230.92" cy="338.65" r="0.49" fill="#a4523c" opacity="0.7"/>
<circle cx="230.37" cy="328.65" r="0.59" fill="#a4523c" opacity="0.47"/>
<circle cx="226.69" cy="317.51" r="0.96" fill="#a4523c" opacity="0.79"/>
<circle cx="242.57" cy="332.85" r="0.62" fill="#a4523c" opacity="0.89"/>
<circle cx="243.68" cy="331.04" r="0.93" fill="#a4523c" opacity="0.5"/>
<circle cx="236.35" cy="338.07" r="0.56" fill="#a4523c" opacity="0.95"/>
<circle cx="244.69" cy="323.94" r="0.86" fill="#a4523c" opacity="0.67"/>
<circle cx="226.45" cy="336.32" r="0.43" fill="#a4523c" opacity="0.86"/>
<circle cx="229.95" cy="332.95" r="0.99" fill="#a4523c" opacity="0.74"/>
<circle cx="218.48" cy="313.39" r="0.49" fill="#a4523c" opacity="0.76"/>
<circle cx="238.08" cy="328.86" r="0.94" fill="#a4523c" opacity="0.52"/>
<circle cx="228.75" cy="333.4" r="0.41" fill="#a4523c" opacity="0.45"/>
<circle cx="234.56" cy="315.74" r="0.61" fill="#a4523c" opacity="0.56"/>
<circle cx="244.98" cy="331.33" r="0.52" fill="#a4523c" opacity="0.76"/>
<circle cx="240.03" cy="316.65" r="0.96" fill="#a4523c" opacity="0.57"/>
<circle cx="225.2" cy="315.39" r="0.78" fill="#a4523c" opacity="0.89"/>
<circle cx="230.43" cy="312.67" r="0.79" fill="#a4523c" opacity="0.73"/>
<circle cx="234.35" cy="333.15" r="0.67" fill="#a4523c" opacity="0.92"/>
<circle cx="242.61" cy="325.41" r="0.54" fill="#a4523c" opacity="0.48"/>
<circle cx="243.49" cy="342.69" r="0.49" fill="#a4523c" opacity="0.55"/>
<circle cx="246.09" cy="328.68" r="0.78" fill="#a4523c" opacity="0.86"/>
<circle cx="226.35" cy="322.29" r="0.58" fill="#a4523c" opacity="0.47"/>
<circle cx="258.9" cy="337.59" r="0.83" fill="#a4523c" opacity="0.45"/>
<circle cx="256.86" cy="336.37" r="0.68" fill="#a4523c" opacity="0.82"/>
<circle cx="239.01" cy="319.6" r="0.46" fill="#a4523c" opacity="0.57"/>
<circle cx="220.17" cy="323.14" r="0.85" fill="#a4523c" opacity="0.8"/>
<circle cx="256.9" cy="335.29" r="0.56" fill="#a4523c" opacity="0.73"/>
<circle cx="238.26" cy="337.77" r="0.71" fill="#a4523c" opacity="0.58"/>
<circle cx="247.64" cy="343.48" r="0.53" fill="#a4523c" opacity="0.89"/>
<circle cx="219.09" cy="320.71" r="0.54" fill="#a4523c" opacity="0.82"/>
<circle cx="261.42" cy="336.4" r="0.6" fill="#a4523c" opacity="0.89"/>
<circle cx="233.36" cy="320.03" r="0.94" fill="#a4523c" opacity="0.77"/>
<circle cx="249.95" cy="333.79" r="0.99" fill="#a4523c" opacity="0.68"/>
<circle cx="256.64" cy="334.83" r="0.91" fill="#a4523c" opacity="0.67"/>
<circle cx="251.4" cy="330.72" r="0.58" fill="#a4523c" opacity="0.56"/>
<circle cx="219.63" cy="315.75" r="0.96" fill="#a4523c" opacity="0.62"/>
<circle cx="224.86" cy="313.23" r="0.42" fill="#a4523c" opacity="0.8"/>
<circle cx="247.27" cy="334.81" r="0.84" fill="#a4523c" opacity="0.48"/>
<circle cx="245.29" cy="324.04" r="0.89" fill="#a4523c" opacity="0.86"/>
<circle cx="257.92" cy="341.84" r="0.97" fill="#a4523c" opacity="0.5"/>
<circle cx="227.77" cy="315.92" r="0.42" fill="#a4523c" opacity="0.87"/>
<circle cx="255.38" cy="332.79" r="0.9" fill="#a4523c" opacity="0.77"/>
<circle cx="231.49" cy="315.53" r="0.46" fill="#a4523c" opacity="0.83"/>
<circle cx="227.74" cy="322.61" r="0.65" fill="#a4523c" opacity="0.46"/>
<circle cx="230.09" cy="321.43" r="0.83" fill="#a4523c" opacity="0.63"/>
<circle cx="233.01" cy="343.44" r="0.7" fill="#a4523c" opacity="0.88"/>
<circle cx="237.2" cy="326.4" r="0.86" fill="#a4523c" opacity="0.62"/>
<circle cx="250.49" cy="329.67" r="0.53" fill="#a4523c" opacity="0.88"/>
<circle cx="222.54" cy="338.78" r="0.5" fill="#a4523c" opacity="0.45"/>
<circle cx="227.6" cy="336.92" r="0.99" fill="#a4523c" opacity="0.45"/>
<circle cx="240.75" cy="328.18" r="0.88" fill="#a4523c" opacity="0.54"/>
<circle cx="240.92" cy="323.51" r="0.9" fill="#a4523c" opacity="0.58"/>
<circle cx="228.18" cy="334.89" r="0.7" fill="#a4523c" opacity="0.5"/>
<circle cx="254.28" cy="334.82" r="0.87" fill="#a4523c" opacity="0.76"/>
<circle cx="234.59" cy="325.26" r="0.64" fill="#a4523c" opacity="0.9"/>
<circle cx="222.32" cy="341" r="0.42" fill="#a4523c" opacity="0.55"/>
<circle cx="230.39" cy="341.41" r="0.7" fill="#a4523c" opacity="0.64"/>
<circle cx="239.39" cy="329.47" r="0.85" fill="#a4523c" opacity="0.83"/>
<circle cx="233.28" cy="317.32" r="0.91" fill="#a4523c" opacity="0.78"/>
<circle cx="238.38" cy="337.28" r="0.75" fill="#a4523c" opacity="0.51"/>
<circle cx="239.44" cy="340.89" r="0.54" fill="#a4523c" opacity="0.55"/>
<circle cx="232.13" cy="335.01" r="0.91" fill="#a4523c" opacity="0.53"/>
<circle cx="225.5" cy="320.3" r="0.6" fill="#a4523c" opacity="0.71"/>
<circle cx="225.73" cy="322.9" r="0.51" fill="#a4523c" opacity="0.94"/>
<circle cx="235.9" cy="344.08" r="0.88" fill="#a4523c" opacity="0.82"/>
<circle cx="238.21" cy="318.64" r="0.78" fill="#a4523c" opacity="0.5"/>
<circle cx="227.8" cy="324.84" r="0.42" fill="#a4523c" opacity="0.65"/>
<circle cx="254.42" cy="334.7" r="0.7" fill="#a4523c" opacity="0.77"/>
<circle cx="239.5" cy="316.88" r="0.76" fill="#a4523c" opacity="0.65"/>
<circle cx="252.14" cy="341.63" r="0.66" fill="#a4523c" opacity="0.74"/>
<circle cx="228.81" cy="335.63" r="0.93" fill="#a4523c" opacity="0.84"/>
<circle cx="250.28" cy="339.84" r="0.81" fill="#a4523c" opacity="0.77"/>
<circle cx="239.07" cy="322.41" r="0.78" fill="#a4523c" opacity="0.5"/>
<circle cx="237.51" cy="337.57" r="0.83" fill="#a4523c" opacity="0.76"/>
<circle cx="229.79" cy="325.98" r="0.67" fill="#a4523c" opacity="0.76"/>
<circle cx="237.04" cy="334.11" r="0.96" fill="#a4523c" opacity="0.54"/>
<circle cx="248.21" cy="337.44" r="0.63" fill="#a4523c" opacity="0.69"/>
<circle cx="243.14" cy="317.5" r="0.87" fill="#a4523c" opacity="0.92"/>
<circle cx="242.05" cy="315.57" r="0.74" fill="#a4523c" opacity="0.72"/>
<circle cx="251.07" cy="328.84" r="0.78" fill="#a4523c" opacity="0.86"/>
<circle cx="242.16" cy="325.56" r="0.97" fill="#a4523c" opacity="0.56"/>
<circle cx="220.98" cy="321.16" r="0.64" fill="#a4523c" opacity="0.46"/>
<circle cx="237.46" cy="325.88" r="0.82" fill="#a4523c" opacity="0.63"/>
<circle cx="230.48" cy="319.55" r="0.84" fill="#a4523c" opacity="0.92"/>
<circle cx="276.35" cy="340.82" r="0.62" fill="#a4523c" opacity="0.46"/>
<circle cx="264.4" cy="335.32" r="0.61" fill="#a4523c" opacity="0.62"/>
<circle cx="280.42" cy="346.13" r="0.52" fill="#a4523c" opacity="0.39"/>
<circle cx="292.93" cy="348.61" r="0.56" fill="#a4523c" opacity="0.63"/>
<circle cx="287.32" cy="348.48" r="0.42" fill="#a4523c" opacity="0.52"/>
<circle cx="261.1" cy="345.2" r="0.44" fill="#a4523c" opacity="0.64"/>
<circle cx="266.5" cy="339.9" r="0.4" fill="#a4523c" opacity="0.47"/>
<circle cx="263.4" cy="333" r="0.59" fill="#a4523c" opacity="0.41"/>
<circle cx="265.65" cy="338.44" r="0.49" fill="#a4523c" opacity="0.47"/>
<circle cx="280.54" cy="349.14" r="0.44" fill="#a4523c" opacity="0.67"/>
<circle cx="288.78" cy="342.56" r="0.63" fill="#a4523c" opacity="0.66"/>
<circle cx="286.1" cy="342.94" r="0.63" fill="#a4523c" opacity="0.55"/>
<circle cx="256.92" cy="330.91" r="0.68" fill="#a4523c" opacity="0.56"/>
<circle cx="265.84" cy="335.38" r="0.36" fill="#a4523c" opacity="0.39"/>
<circle cx="285.81" cy="346.06" r="0.36" fill="#a4523c" opacity="0.66"/>
<circle cx="286.39" cy="343.47" r="0.66" fill="#a4523c" opacity="0.54"/>
<circle cx="286" cy="351.16" r="0.66" fill="#a4523c" opacity="0.62"/>
<circle cx="288.18" cy="344.55" r="0.58" fill="#a4523c" opacity="0.51"/>
<circle cx="284.51" cy="347.05" r="0.65" fill="#a4523c" opacity="0.52"/>
<circle cx="266.39" cy="337.64" r="0.36" fill="#a4523c" opacity="0.5"/>
<circle cx="258.57" cy="338.6" r="0.36" fill="#a4523c" opacity="0.5"/>
<circle cx="275.26" cy="345.46" r="0.65" fill="#a4523c" opacity="0.3"/>
<circle cx="288.26" cy="348.8" r="0.53" fill="#a4523c" opacity="0.57"/>
<circle cx="288.25" cy="347.34" r="0.47" fill="#a4523c" opacity="0.68"/>
<circle cx="259.21" cy="341.47" r="0.55" fill="#a4523c" opacity="0.31"/>
<circle cx="279.49" cy="349.14" r="0.67" fill="#a4523c" opacity="0.43"/>
<circle cx="293.61" cy="351.3" r="0.49" fill="#a4523c" opacity="0.66"/>
<circle cx="257.64" cy="342.2" r="0.55" fill="#a4523c" opacity="0.44"/>
<circle cx="289.05" cy="347.48" r="0.49" fill="#a4523c" opacity="0.51"/>
<circle cx="285.59" cy="343.87" r="0.47" fill="#a4523c" opacity="0.47"/>
<polyline points="282.16,355.02 290.5,349.81" fill="none" stroke="#8f3b28" stroke-width="1"/>
<polyline points="283.67,358.15 292.02,353.46" fill="none" stroke="#6f5a9a" stroke-width="0.8"/>
</g>
<rect x="222.3" y="359.2" width="14.2" height="2" fill="#fff"/>
</g>
<rect x="218.4" y="312.3" width="75.9" height="52.1" fill="none" stroke="#9a9a9a" stroke-width="0.9"/>
<clipPath id="cp7"><rect x="140" y="366.3" width="76.6" height="52.5"/></clipPath>
<g clip-path="url(#cp7)">
<rect x="140" y="366.3" width="76.6" height="52.5" fill="#efedf0"/>
<g filter="url(#bl0)">
<g filter="url(#texL)">
<polygon points="140,366.3 159.15,366.3 155.32,371.55 178.3,375.75 185.96,382.05 162.98,385.2 143.83,384.15 140,379.43" fill="#e1e1ee"/>
<polygon points="187.49,371.55 216.6,368.93 216.6,382.05 193.62,378.9" fill="#e3e3ef"/>
<polygon points="140,392.55 155.32,386.25 174.47,381 197.45,383.1 216.6,389.4 216.6,418.8 208.94,418.8 204.34,408.3 185.96,404.1 166.81,406.2 147.66,413.55 140,416.18" fill="#dddfee"/>
<polygon points="140,412.5 147.66,411.45 166.81,403.57 185.96,400.95 204.34,405.15 211.24,418.8 195.15,418.8 193.62,413.55 182.13,409.35 166.81,411.45 151.49,418.8 140,418.8" fill="#d5d9ec"/>
</g>
<path d="M142.7 394.3L142.5 407.3M152.2 392.9L152.0 402.1M155.4 390.9L155.7 401.6M173.2 385.5L173.1 397.4M175.6 385.5L175.0 391.7M183.3 386.0L184.0 396.1M196.3 387.2L196.0 398.1M205.0 390.5L205.5 399.1M207.1 390.6L207.9 397.0M211.3 395.5L211.7 401.5M214.2 392.0L213.9 402.9M216.0 400.7L215.6 409.7" stroke="#f4f3f6" stroke-width="0.88" opacity="0.66" stroke-linecap="round" fill="none"/>
<path d="M141.1 395.8L141.6 407.6M145.4 394.7L145.1 406.2M146.3 393.6L147.1 406.5M149.5 392.5L148.8 404.7M162.7 390.6L162.4 398.2M166.3 388.2L166.4 394.4M186.5 386.8L186.0 394.5M189.6 386.7L190.0 394.4M192.7 386.9L193.2 397.2M204.0 391.1L204.3 398.2M209.1 390.9L209.4 402.9" stroke="#f4f3f6" stroke-width="1.1" opacity="0.77" stroke-linecap="round" fill="none"/>
<path d="M150.3 393.0L150.3 398.7M156.2 390.7L155.7 401.0M158.5 390.7L159.1 396.3M160.2 388.9L159.9 401.0M165.3 387.6L165.3 397.4M169.1 390.3L169.3 395.6M172.2 387.4L171.6 396.4M176.5 387.1L176.1 392.5M179.8 385.7L180.2 396.5M182.0 385.9L182.2 396.2M185.8 390.3L186.0 395.7M191.8 387.6L191.5 394.0M197.7 387.5L197.8 397.9M199.9 392.7L200.4 398.1M201.3 388.4L201.6 399.2" stroke="#f4f3f6" stroke-width="1.32" opacity="0.89" stroke-linecap="round" fill="none"/>
<path d="M140.6 406.1L141.0 412.3M141.6 404.1L141.2 410.7M143.7 399.5L144.2 402.9M144.4 405.0L144.6 407.9M146.8 393.2L146.4 402.3M147.2 397.9L146.5 408.4M148.0 397.5L148.7 407.0M149.0 393.0L149.3 400.6M150.1 393.9L149.9 398.0M152.4 394.6L153.1 402.8M156.0 397.7L156.5 406.6M157.4 394.4L156.6 404.3M159.7 395.2L159.4 398.0M160.4 396.3L160.3 399.8M161.6 389.9L161.8 393.0M164.5 390.1L164.5 392.7M165.3 395.6L165.0 398.6M165.9 390.2L166.2 394.3M167.3 391.2L167.5 394.9M173.8 390.3L173.8 397.0M177.7 387.0L177.7 390.6M178.9 391.0L179.3 394.7M181.6 386.9L182.2 396.8M184.4 388.0L184.9 398.0M185.7 391.8L185.1 400.8M194.8 387.2L195.1 393.9M204.8 393.9L204.0 401.8M208.1 400.0L207.9 403.4M209.7 398.1L209.8 403.0M211.7 404.5L211.6 412.1M211.9 404.8L211.6 412.9M213.5 393.1L213.5 402.6" stroke="#a4523c" stroke-width="0.52" opacity="0.44" stroke-linecap="round" fill="none"/>
<path d="M142.2 401.0L142.3 409.2M143.3 401.0L144.0 410.4M145.7 399.6L145.1 409.5M151.1 405.1L150.8 409.5M151.2 402.7L151.8 409.7M153.4 393.3L152.8 400.6M154.2 398.3L154.0 404.0M156.7 390.6L156.1 400.0M158.4 392.5L157.9 397.7M159.2 390.8L158.8 394.5M162.0 395.4L162.4 404.6M162.6 397.6L162.2 402.3M163.2 395.0L163.5 404.6M166.9 387.9L167.2 397.0M168.3 398.3L168.6 402.6M169.1 389.8L168.9 399.7M169.8 390.1L169.1 399.5M170.0 393.0L170.1 400.9M170.7 389.9L171.2 398.0M172.2 386.5L172.6 395.6M174.3 390.6L173.8 393.9M176.0 387.3L176.2 392.0M177.0 391.8L177.2 396.6M180.3 391.3L181.0 398.1M182.0 389.7L181.8 393.5M182.9 397.3L182.5 400.0M183.5 394.5L182.9 401.1M184.6 391.5L184.9 399.2M186.3 386.7L186.0 392.8M188.0 391.2L188.6 394.5M188.1 394.5L188.0 398.1M188.9 388.3L188.6 396.7M190.4 390.6L190.4 400.2M191.8 391.5L192.5 401.4M192.6 393.4L193.4 399.9M193.0 392.7L193.1 395.5M198.2 387.9L198.3 394.4M199.1 392.1L198.5 396.9M200.3 395.2L200.7 400.8M200.8 393.4L201.3 398.4M201.7 396.6L202.3 403.8M202.7 395.3L202.4 402.7M203.3 394.6L202.9 404.8M203.6 395.3L203.8 402.1M204.4 392.1L204.3 398.8M206.8 401.2L206.7 405.0M214.6 408.8L214.6 412.2M216.1 403.1L215.6 411.4" stroke="#a4523c" stroke-width="0.65" opacity="0.62" stroke-linecap="round" fill="none"/>
<path d="M140.9 396.0L141.4 403.2M144.9 394.6L144.9 405.0M149.2 396.2L149.9 403.3M152.6 404.2L152.1 409.3M154.8 394.8L154.0 398.6M157.7 391.6L157.7 396.9M163.8 393.0L163.8 400.7M171.7 391.2L171.1 397.3M173.1 390.8L172.5 400.5M175.0 393.1L174.4 402.2M176.6 393.2L177.1 401.3M179.7 390.6L180.0 393.3M180.6 393.3L180.5 397.9M186.9 396.6L187.6 400.5M189.9 389.4L189.4 396.6M190.9 394.9L190.9 400.2M193.9 394.7L193.8 397.9M195.3 394.1L194.8 401.9M196.3 390.6L196.7 399.7M197.0 391.5L197.2 401.9M197.7 389.0L197.0 392.6M199.7 395.2L199.4 400.1M205.8 398.1L205.7 401.6M207.2 390.0L206.9 397.5M208.8 401.7L209.4 408.4M209.2 395.2L209.9 405.2M210.6 398.6L210.0 401.7M212.8 403.1L212.8 411.0M214.2 407.3L213.7 413.2M215.6 406.8L214.9 415.8" stroke="#a4523c" stroke-width="0.78" opacity="0.81" stroke-linecap="round" fill="none"/>
<path d="M140.5 405.7L139.8 411.4M142.1 410.4L141.7 412.7M143.3 404.9L143.3 409.5M144.9 407.1L145.5 412.1M152.2 404.5L152.1 408.7M153.4 403.2L152.9 407.0M159.1 400.8L158.7 406.5M159.4 399.5L160.0 404.9M162.0 400.3L161.3 405.4M166.0 396.9L166.3 402.7M170.3 396.9L170.7 402.9M171.4 396.1L170.9 401.7M172.1 396.4L171.8 401.2M172.3 398.9L172.5 402.4M173.0 395.8L172.6 400.8M176.5 396.1L176.9 400.7M176.9 397.2L176.4 400.6M178.2 398.1L177.9 401.5M179.1 394.1L179.5 396.2M181.0 397.0L181.0 400.9M182.6 397.1L182.1 400.2M188.4 395.5L188.3 398.2M189.7 396.9L189.5 401.0M190.6 395.7L191.2 398.1M191.7 394.9L192.3 399.8M196.0 396.4L196.2 402.1M198.6 399.6L199.3 402.8M199.4 396.9L199.0 399.4M201.7 397.4L202.2 403.1M202.7 397.9L203.1 402.3M203.9 397.4L204.0 400.2M205.1 398.2L205.1 403.3M206.4 399.9L206.6 403.7M211.3 409.5L211.8 411.7M212.1 405.5L212.4 411.5M215.7 410.7L215.7 415.7" stroke="#8f3b28" stroke-width="0.6" opacity="0.58" stroke-linecap="round" fill="none"/>
<path d="M142.3 405.3L142.0 411.3M144.0 405.7L143.6 409.5M145.5 407.6L146.2 411.2M146.4 406.7L147.0 410.4M147.2 408.5L147.7 410.9M148.1 405.6L147.8 409.3M150.3 402.9L149.8 408.5M150.9 403.8L151.0 407.6M153.0 402.0L152.9 408.3M154.3 401.6L154.7 404.1M156.8 400.3L157.2 402.7M160.4 400.5L161.0 405.5M164.8 397.5L165.2 399.6M166.6 399.6L167.0 401.9M168.0 397.8L167.8 400.8M174.7 396.4L174.8 402.2M185.1 395.0L184.6 400.2M185.4 395.0L185.2 398.7M190.4 394.6L190.3 400.3M199.9 397.1L199.5 402.0M204.4 399.8L204.0 405.1M208.1 401.7L207.3 407.2M209.3 403.9L209.1 409.4M210.3 403.8L210.6 406.4M210.7 406.7L211.5 411.7M213.2 406.4L213.6 409.6" stroke="#8f3b28" stroke-width="0.75" opacity="0.75" stroke-linecap="round" fill="none"/>
<path d="M141.1 409.3L141.7 413.0M148.5 405.2L147.9 410.1M149.3 405.2L149.7 408.1M154.6 403.1L153.8 408.2M155.4 401.1L155.1 404.0M157.0 402.2L156.7 407.4M157.9 400.0L157.9 403.6M161.4 401.7L161.0 404.2M162.5 399.6L162.9 404.9M163.2 399.7L163.7 404.5M164.1 397.1L164.4 401.4M167.4 397.3L167.2 399.7M168.7 397.6L169.0 401.1M169.6 396.5L169.1 400.7M173.7 397.2L173.9 402.2M175.7 397.5L176.4 400.1M178.4 395.8L178.1 399.8M180.4 395.0L180.0 398.5M181.6 397.5L181.8 400.0M182.9 397.0L182.7 400.8M184.1 394.0L183.5 399.8M186.1 395.5L186.3 397.8M187.0 397.7L186.9 400.0M187.6 395.3L187.0 398.7M192.4 395.7L192.6 397.8M193.0 398.3L192.9 400.8M194.3 395.0L195.0 400.8M194.4 395.7L194.2 401.2M195.4 395.4L195.4 399.9M196.9 396.4L196.3 401.6M197.7 397.7L197.8 402.3M200.7 399.4L200.7 403.9M203.3 397.9L203.2 404.0M207.1 400.3L206.6 406.3M208.3 402.4L209.0 406.1M214.3 411.2L213.7 413.4M214.7 408.8L214.0 411.0M216.4 412.6L217.1 416.6" stroke="#8f3b28" stroke-width="0.9" opacity="0.92" stroke-linecap="round" fill="none"/>
</g>
<rect x="143.6" y="413.6" width="14.6" height="2" fill="#fff"/>
</g>
<rect x="140" y="366.3" width="76.6" height="52.5" fill="none" stroke="#9a9a9a" stroke-width="0.9"/>
<clipPath id="cp8"><rect x="218.4" y="366.3" width="75.9" height="52.5"/></clipPath>
<g clip-path="url(#cp8)">
<rect x="218.4" y="366.3" width="75.9" height="52.5" fill="#e9e7ec"/>
<g filter="url(#bl0)">
<polygon points="218.4,366.3 294.3,366.3 294.3,382.05 218.4,382.05" fill="#eee6e8"/>
<g filter="url(#texL)">
<polygon points="218.4,381 294.3,381 294.3,387.3 218.4,387.3" fill="#e0e1ee"/>
<polygon points="218.4,389.4 256.35,388.35 294.3,389.4 294.3,404.62 256.35,403.57 218.4,404.62" fill="#d6b0ac"/>
<polygon points="218.4,404.1 256.35,403.05 294.3,404.1 294.3,413.55 256.35,412.5 218.4,413.55" fill="#d5d9ec"/>
</g>
<path d="M223.7 370.4L223.8 381.9M225.1 370.7L225.5 380.7M227.9 367.2L228.6 378.0M229.3 366.7L229.5 376.6M232.6 367.1L232.3 378.0M234.6 373.4L234.2 381.3M236.1 374.9L236.2 380.1M237.4 369.4L237.9 377.2M239.5 368.9L240.2 380.3M240.9 370.5L240.3 380.0M245.8 370.5L246.6 379.3M247.0 371.2L246.5 376.3M250.2 373.1L250.6 380.2M254.7 366.8L255.1 374.5M255.5 372.6L255.4 378.9M256.4 367.2L256.7 377.1M258.4 371.1L259.0 381.2M259.3 369.1L258.7 374.4M260.7 366.4L260.0 377.1M264.4 368.3L264.9 379.8M265.5 372.6L265.2 382.0M271.3 367.0L271.6 378.5M277.5 370.0L277.6 376.7M277.7 370.1L277.2 379.9M279.3 367.0L279.5 378.1M283.0 370.4L283.1 379.6M290.8 370.2L291.4 378.2M292.9 372.3L292.5 382.0" stroke="#a4523c" stroke-width="0.56" opacity="0.54" stroke-linecap="round" fill="none"/>
<path d="M219.6 368.1L220.0 373.9M221.5 369.7L221.1 375.0M224.4 368.4L224.6 378.3M226.6 367.5L227.0 373.5M226.8 372.4L227.5 379.1M228.4 367.8L228.3 372.0M230.0 368.8L230.1 375.3M230.6 367.1L230.7 372.7M231.7 369.1L232.2 380.5M233.0 375.7L232.5 381.8M238.2 374.4L238.4 381.7M239.7 369.5L239.4 376.0M241.3 367.5L241.1 375.6M244.9 372.2L245.0 379.8M245.1 372.3L245.3 376.6M248.9 368.5L249.2 379.9M250.4 372.1L250.6 381.6M251.5 373.2L251.4 380.0M252.5 371.7L252.1 380.5M253.1 372.6L252.8 378.6M257.7 370.6L258.3 381.1M261.8 373.8L261.1 381.2M266.4 368.7L267.1 373.2M268.0 366.4L268.4 373.6M268.8 371.7L269.5 378.2M272.7 369.9L273.0 379.2M275.2 374.7L275.9 381.5M276.6 367.4L276.2 378.4M279.0 374.4L279.5 380.4M280.1 367.5L280.0 374.4M281.8 373.8L281.6 381.3M285.6 369.9L285.2 380.8M286.0 367.3L285.6 376.1M287.8 368.8L287.5 375.7M290.0 370.8L289.4 379.9M291.3 366.8L291.7 375.1M292.3 367.2L292.2 374.9M293.8 369.9L293.9 374.4" stroke="#a4523c" stroke-width="0.7" opacity="0.73" stroke-linecap="round" fill="none"/>
<path d="M218.5 373.5L219.1 380.1M220.4 371.9L219.6 379.0M221.0 373.7L221.6 379.6M222.2 369.0L222.4 380.5M225.7 368.5L226.1 374.9M233.8 377.2L233.7 381.5M235.8 372.9L236.3 381.5M237.1 370.1L236.8 381.0M242.3 369.4L242.3 377.6M243.4 371.9L243.6 380.4M243.8 370.3L244.0 374.7M247.4 368.2L248.1 376.8M248.7 369.0L248.4 379.0M253.8 366.4L253.4 372.7M255.7 368.9L255.6 378.1M259.7 371.4L260.0 378.5M261.1 373.1L260.5 381.9M262.5 366.8L263.2 371.8M263.5 369.5L263.0 375.0M265.0 366.6L265.5 372.4M267.0 368.6L267.1 377.8M269.8 367.3L270.4 378.0M270.0 366.8L269.6 375.5M272.2 366.8L271.5 376.8M273.8 369.2L274.3 373.4M274.1 371.0L274.6 379.2M275.8 370.8L276.0 379.9M280.8 375.0L280.5 381.1M282.7 370.6L283.1 378.1M284.1 367.8L283.8 375.9M284.6 373.2L284.1 381.6M287.4 368.4L288.1 374.7M288.6 371.6L288.2 380.2M289.1 366.5L289.6 375.2" stroke="#a4523c" stroke-width="0.84" opacity="0.91" stroke-linecap="round" fill="none"/>
<path d="M219.4 374.7L218.7 378.6M219.8 369.0L219.9 372.7M223.1 370.0L223.8 375.8M224.6 373.4L224.6 377.4M230.6 368.3L230.9 377.3M234.6 375.1L234.5 378.5M242.2 367.2L241.8 371.2M243.0 375.6L242.3 380.1M244.5 367.2L244.8 372.0M248.4 373.4L248.5 378.5M249.0 366.4L248.8 374.6M253.1 373.6L253.3 377.0M255.1 367.0L255.7 375.1M257.0 368.8L257.0 377.3M257.9 368.3L258.3 374.4M259.6 370.4L259.0 375.4M261.9 372.0L261.6 378.2M263.7 375.3L263.8 380.3M264.9 375.4L264.7 379.3M265.2 373.8L265.5 380.2M270.1 373.6L269.5 379.7M271.8 373.9L271.5 380.7M275.2 367.2L274.4 373.5M275.9 369.1L276.2 377.3M278.4 372.2L278.9 378.6M281.3 374.7L281.4 378.3M285.4 371.6L284.7 377.4M285.6 373.2L286.1 379.6M287.0 368.1L287.3 377.1" stroke="#8f3b28" stroke-width="0.56" opacity="0.58" stroke-linecap="round" fill="none"/>
<path d="M225.0 370.2L224.3 376.8M226.3 369.0L226.3 377.6M228.1 373.5L227.9 378.6M237.5 367.6L238.0 371.6M238.9 368.8L239.3 377.8M246.1 371.3L245.5 380.2M255.1 369.0L254.8 378.0M260.6 368.2L259.9 377.3M270.4 370.2L269.8 376.5M276.7 368.0L277.5 372.2M281.7 368.7L282.2 375.7M283.0 369.1L282.5 377.0M289.2 369.7L289.2 377.9M290.6 371.7L290.8 377.2M292.5 369.6L292.9 377.8" stroke="#8f3b28" stroke-width="0.7" opacity="0.75" stroke-linecap="round" fill="none"/>
<path d="M222.0 373.1L222.5 377.5M229.6 374.2L228.9 379.0M231.5 371.5L232.1 379.7M233.2 373.2L232.5 380.9M235.7 368.9L235.7 377.2M236.7 372.0L236.6 380.7M240.2 368.1L240.6 375.8M246.6 370.5L246.3 375.1M250.4 373.8L250.7 377.9M251.4 368.6L251.3 374.7M267.0 372.1L267.3 380.5M267.9 366.9L267.7 371.1M273.2 366.4L273.8 373.0M280.0 374.0L280.4 378.5M290.4 368.8L289.9 376.7M293.2 366.7L293.8 375.1" stroke="#8f3b28" stroke-width="0.84" opacity="0.92" stroke-linecap="round" fill="none"/>
<path d="M223.2 396.6L223.2 403.4M223.6 391.1L223.3 402.4M224.9 393.0L224.2 398.2M226.2 390.8L226.3 402.3M226.7 391.7L226.1 396.0M227.2 393.0L227.0 404.0M228.0 391.4L228.3 401.7M230.1 395.4L230.1 402.8M230.9 394.4L230.6 404.9M239.4 390.3L239.1 397.5M240.6 390.0L240.1 400.2M242.6 389.9L242.2 397.6M244.1 389.9L243.5 399.8M244.5 391.6L245.2 402.1M245.1 390.5L245.7 401.6M245.8 389.9L245.4 399.2M246.7 394.5L246.8 401.3M247.8 392.0L248.2 400.0M249.2 394.0L249.3 402.6M249.4 389.7L249.7 402.1M250.2 393.9L250.1 398.3M251.0 393.4L251.6 402.6M251.7 390.5L252.4 402.8M252.6 391.7L252.0 397.5M253.7 389.0L254.1 399.8M254.1 387.6L254.5 397.7M254.8 389.2L254.1 399.4M256.0 397.1L255.8 401.7M256.8 394.8L256.2 402.8M257.8 388.7L257.2 396.9M259.9 387.5L259.3 398.5M261.2 389.6L261.4 401.3M261.4 393.9L262.0 399.8M265.4 389.3L264.7 398.9M266.8 390.3L266.3 402.3M267.2 388.8L267.8 401.0M267.6 391.5L267.6 402.4M268.2 389.9L268.8 402.1M270.1 392.9L270.6 398.7M270.6 392.4L270.5 402.1M271.3 393.3L271.6 398.2M273.0 392.4L272.4 403.1M274.0 393.1L274.4 402.1M276.0 395.3L275.5 399.8M276.7 394.0L276.0 400.3M277.4 391.0L276.6 398.2M281.0 391.1L281.4 401.1M282.7 396.2L282.2 400.5M284.9 392.7L285.4 403.9M287.5 396.8L287.2 401.5M288.6 395.2L288.7 401.5M289.2 392.1L289.6 404.0M289.9 392.0L289.1 403.7M291.8 396.4L291.7 402.2M293.3 391.1L292.9 403.2" stroke="#a4523c" stroke-width="0.64" opacity="0.58" stroke-linecap="round" fill="none"/>
<path d="M218.6 390.3L218.1 401.1M219.7 391.7L220.4 403.9M221.0 392.5L221.1 402.3M221.9 396.2L222.1 403.8M222.3 391.4L222.0 403.1M222.7 399.0L223.2 403.3M225.2 396.6L224.7 403.6M225.9 390.7L225.8 400.0M231.8 392.2L231.9 404.7M233.1 391.4L233.3 401.1M233.3 391.9L233.9 404.3M233.7 391.4L234.1 400.4M234.5 392.1L233.9 398.0M235.0 396.6L234.3 402.3M235.6 392.9L235.9 403.7M235.8 392.5L235.5 404.6M236.3 393.4L236.0 403.3M236.8 391.0L236.7 396.9M237.9 392.1L238.2 401.0M240.1 393.1L240.3 404.7M241.2 391.4L241.6 400.9M241.6 390.2L241.4 401.1M243.5 393.1L243.6 402.2M246.9 394.1L247.4 404.2M248.5 392.4L248.2 400.5M250.8 396.9L250.2 403.4M253.0 390.4L253.0 396.2M255.5 395.1L255.7 402.3M257.0 389.7L256.4 401.4M259.1 390.9L259.6 401.3M259.5 396.6L259.6 400.9M260.5 388.0L261.0 397.0M263.9 388.5L263.8 401.0M265.9 397.2L265.9 403.1M271.9 389.4L271.3 400.7M273.4 391.8L273.2 402.4M275.5 391.3L275.2 399.2M276.6 390.0L277.0 399.7M278.1 391.2L277.5 402.0M278.3 395.9L277.7 403.0M278.7 391.7L278.8 400.4M279.7 390.8L279.0 397.4M283.5 392.3L284.1 401.9M284.3 390.6L284.8 403.1M286.5 395.5L285.8 402.3M288.2 393.4L287.7 400.6M289.4 396.7L289.2 402.5M290.6 392.5L289.9 403.7M291.0 394.2L291.0 399.3M291.3 395.2L290.9 403.4M292.9 389.8L293.5 399.1M294.1 397.1L294.0 403.9" stroke="#a4523c" stroke-width="0.8" opacity="0.75" stroke-linecap="round" fill="none"/>
<path d="M219.3 389.6L219.0 400.4M220.3 392.1L220.4 403.4M220.5 389.9L220.8 398.2M224.5 390.9L224.3 396.7M228.5 391.3L227.8 403.0M228.7 396.1L228.4 402.5M229.3 393.9L229.6 401.2M229.8 390.6L229.1 397.8M231.1 392.3L230.6 404.4M232.4 392.4L231.7 398.6M237.4 393.0L236.9 403.8M238.3 392.9L238.8 403.2M238.7 397.0L238.8 405.0M242.1 396.3L242.6 403.4M242.9 395.7L242.9 400.4M245.5 391.5L246.1 403.0M247.4 390.3L247.3 398.4M252.1 391.9L252.8 400.9M255.0 389.3L255.4 400.5M258.1 393.4L257.9 399.7M258.4 388.6L259.1 400.4M262.2 395.9L262.1 401.2M262.9 388.0L263.3 398.0M263.3 393.4L263.1 398.0M264.2 392.9L264.1 398.1M264.6 390.0L264.4 402.5M266.1 390.4L266.3 402.4M268.9 389.5L268.9 398.3M269.3 390.2L269.6 401.1M269.8 393.3L269.0 399.9M272.2 394.1L272.2 400.9M274.5 390.1L273.8 401.4M274.6 389.8L274.0 401.7M279.6 391.2L279.8 399.8M280.4 390.7L280.5 395.9M281.3 391.3L281.9 403.5M281.8 390.7L281.9 403.0M282.2 395.6L281.6 400.4M283.8 396.3L283.6 401.3M285.2 395.4L285.0 401.3M285.7 391.2L285.2 397.0M286.8 391.2L287.0 403.6M292.7 395.4L292.3 404.2" stroke="#a4523c" stroke-width="0.96" opacity="0.92" stroke-linecap="round" fill="none"/>
<path d="M219.5 397.3L220.0 401.1M219.9 392.7L219.4 402.0M223.1 393.5L223.7 402.1M224.1 396.1L223.5 399.5M224.8 397.0L224.2 402.1M226.2 392.0L226.5 400.6M227.6 391.8L226.8 401.1M228.3 396.1L228.1 403.5M229.8 392.7L229.2 399.4M233.2 391.8L232.6 395.2M234.2 393.2L233.7 396.8M236.1 391.4L236.8 399.6M240.3 395.5L241.0 400.1M241.7 393.4L242.1 398.8M244.1 392.3L244.4 400.6M245.8 392.6L246.5 399.7M246.3 392.4L245.7 400.9M247.1 391.5L247.2 400.0M248.0 394.3L248.1 401.2M248.1 398.8L248.4 401.9M248.9 391.8L249.3 396.1M249.5 391.5L250.2 395.4M251.2 398.4L250.5 403.1M251.7 399.6L252.4 403.1M252.8 394.2L252.7 401.9M253.9 398.4L253.6 403.4M256.0 397.6L256.6 403.5M257.4 397.9L257.0 403.2M261.2 396.2L261.9 402.6M263.2 393.7L262.9 401.1M266.8 393.5L266.5 399.5M268.0 394.5L268.0 401.8M269.6 392.0L269.1 398.5M270.4 392.3L270.2 400.5M275.6 392.7L274.9 400.2M278.7 391.6L279.1 398.7M279.7 396.1L280.3 403.3M281.8 392.1L282.3 397.4M282.5 391.4L282.5 400.6M284.2 399.0L284.8 402.5M284.8 399.4L285.2 403.0M287.2 391.9L287.3 397.0M291.4 396.6L291.8 402.0M293.3 392.7L293.7 401.9" stroke="#8f3b28" stroke-width="0.6" opacity="0.62" stroke-linecap="round" fill="none"/>
<path d="M219.0 392.7L218.4 398.8M221.9 395.4L222.5 400.8M223.7 396.0L224.1 399.3M225.8 391.5L225.4 394.7M227.1 392.3L226.7 396.8M230.9 392.8L230.4 398.0M237.7 394.1L238.4 401.4M238.2 393.3L238.4 396.9M238.6 391.6L238.5 396.8M239.6 392.7L239.1 400.3M240.9 397.0L241.2 402.6M243.6 394.3L243.3 399.6M256.4 395.1L256.1 402.3M258.6 391.1L259.3 395.4M260.3 391.7L260.0 400.9M260.9 392.7L260.6 397.7M263.3 396.5L263.3 400.1M268.4 391.3L267.7 395.0M269.4 393.4L269.7 400.8M272.2 391.3L272.3 397.4M273.0 394.0L273.5 403.2M276.4 391.0L276.0 394.4M277.6 395.9L277.4 400.7M280.3 394.2L280.6 402.5M283.1 391.1L283.8 399.5M283.8 391.6L283.4 399.6M285.9 394.7L285.9 401.9M286.2 391.6L286.2 398.7M287.8 391.3L287.2 400.7M288.4 392.3L287.9 401.0M291.7 391.0L291.6 399.7M292.7 396.2L292.4 399.8" stroke="#8f3b28" stroke-width="0.75" opacity="0.78" stroke-linecap="round" fill="none"/>
<path d="M220.9 391.4L221.1 399.7M221.7 395.6L221.7 402.2M228.9 394.5L229.4 402.9M230.5 395.5L231.1 400.4M231.6 394.1L231.5 401.0M232.7 391.1L232.3 399.7M234.6 391.9L235.0 398.4M235.4 394.2L235.4 401.0M236.6 395.2L236.5 402.1M242.5 391.6L242.0 398.8M242.6 395.0L242.0 400.7M244.9 394.2L244.6 398.1M250.5 396.8L250.1 400.4M253.3 391.6L253.7 401.0M254.8 394.6L254.4 398.4M255.3 392.2L255.5 398.3M257.9 393.7L258.2 398.7M259.2 395.8L259.0 399.4M262.2 398.2L262.2 402.6M264.5 394.4L265.0 400.8M264.9 393.3L265.3 400.9M266.0 395.9L265.9 403.0M266.6 392.2L267.3 396.2M271.2 396.4L271.8 403.0M272.7 396.5L273.2 402.2M274.2 395.5L274.6 398.8M274.4 393.7L273.9 402.3M276.3 396.7L276.7 403.5M278.0 391.4L277.3 396.4M280.8 396.7L281.1 401.8M289.2 392.2L289.7 401.2M290.1 394.8L290.0 398.1M290.3 393.6L289.9 403.0M294.1 391.3L294.8 395.4" stroke="#8f3b28" stroke-width="0.9" opacity="0.93" stroke-linecap="round" fill="none"/>
<path d="M220.7 394.7L220.9 398.7M223.1 388.8L222.7 393.8M225.7 389.2L226.1 396.8M231.7 390.9L231.7 396.2M235.5 388.7L235.0 396.0M237.5 389.4L237.1 393.8M246.0 388.7L246.0 392.2M254.9 390.4L254.8 395.2M262.6 390.9L262.1 395.1M264.5 391.7L263.9 396.7M270.6 389.2L270.7 394.8M288.8 392.0L288.8 397.5" stroke="#f1eef2" stroke-width="0.72" opacity="0.57" stroke-linecap="round" fill="none"/>
<path d="M242.3 391.7L242.8 397.9M248.4 389.5L248.3 397.4M256.8 391.2L256.4 396.0M261.0 389.7L261.0 396.9M267.4 391.7L267.7 397.0M281.3 389.7L281.5 397.0M283.7 391.3L283.9 395.2M284.5 388.9L283.8 396.7M290.1 388.7L290.3 394.6M292.1 390.7L292.2 395.2" stroke="#f1eef2" stroke-width="0.9" opacity="0.7" stroke-linecap="round" fill="none"/>
<path d="M227.3 389.4L226.7 397.5M229.6 394.6L229.9 397.9M240.9 391.0L241.3 395.2M249.9 388.4L249.7 394.9M251.9 393.6L251.8 397.8M273.7 390.6L273.9 397.6M275.1 391.9L275.2 397.3M278.5 390.6L278.7 393.8" stroke="#f1eef2" stroke-width="1.08" opacity="0.83" stroke-linecap="round" fill="none"/>
<path d="M222.3 371.9L222.8 379.3M228.8 366.6L228.2 379.5M242.9 371.2L242.3 377.8M247.1 370.3L247.0 378.8M251.3 370.4L250.8 381.2M264.0 367.2L264.0 378.8M271.9 369.1L272.7 381.4M279.5 368.2L279.2 380.2M282.9 370.1L282.8 381.9M285.6 367.7L285.5 380.1M286.9 370.2L286.6 381.6M290.8 367.1L291.2 375.8" stroke="#f6f3f6" stroke-width="0.96" opacity="0.66" stroke-linecap="round" fill="none"/>
<path d="M228.0 373.5L227.4 379.9M232.4 369.2L233.1 381.8M235.7 371.4L236.0 377.0M236.3 367.2L236.5 379.3M245.2 366.5L245.0 377.0M268.6 368.6L268.1 376.7M277.4 368.7L277.9 379.0" stroke="#f6f3f6" stroke-width="1.2" opacity="0.77" stroke-linecap="round" fill="none"/>
<path d="M218.4 370.2L218.9 381.8M225.8 373.3L225.4 381.5M238.7 375.1L238.0 380.8M253.3 368.2L253.2 378.4M255.5 372.0L256.0 377.6M256.4 373.2L256.6 381.9M259.9 366.7L260.5 379.4M262.7 368.4L262.2 377.5M270.8 366.6L271.5 375.1M276.1 367.1L276.8 378.5M293.6 371.2L293.6 381.5" stroke="#f6f3f6" stroke-width="1.44" opacity="0.89" stroke-linecap="round" fill="none"/>
</g>
<rect x="222.3" y="413.6" width="14.2" height="2" fill="#fff"/>
</g>
<rect x="218.4" y="366.3" width="75.9" height="52.5" fill="none" stroke="#9a9a9a" stroke-width="0.9"/>
<text x="118.3" y="444.6" font-size="10.2" font-weight="bold" textLength="8.32" lengthAdjust="spacingAndGlyphs" fill="#000">K</text>
<text x="201.4" y="440.3" font-size="8.8" text-anchor="middle" textLength="16.2" lengthAdjust="spacingAndGlyphs">PBS</text>
<text x="337.2" y="440.3" font-size="8.8" text-anchor="middle" textLength="46.5" lengthAdjust="spacingAndGlyphs">PEG-rIL-29</text>
<clipPath id="cp9"><rect x="134.4" y="445.3" width="133.8" height="106.5"/></clipPath>
<g clip-path="url(#cp9)">
<rect x="134.4" y="445.3" width="133.8" height="106.5" fill="#140e24"/>
<g filter="url(#bl0)">
<polygon points="134.4,445.3 182.57,445.3 175.88,458.08 155.81,468.73 134.4,477.25" fill="#4a3a21"/>
<polygon points="182.57,445.3 268.2,445.3 268.2,452.75 217.36,454.88 190.6,450.62" fill="#40311f"/>
<polygon points="178.55,551.8 182.57,543.28 214.68,524.11 241.44,507.07 268.2,492.16 268.2,551.8" fill="#48372a"/>
<polygon points="134.4,545.41 182.57,543.28 178.55,551.8 134.4,551.8" fill="#3a2c34"/>
<polyline points="182.57,544.35 214.68,525.17 241.44,508.13 268.2,493.22" fill="none" stroke="#241a2c" stroke-width="1.6"/>
<polyline points="187.92,545.41 218.69,527.3 244.12,511.33 268.2,498.55" fill="none" stroke="#5a447a" stroke-width="0.8" opacity="0.7"/>
<polyline points="139.75,539.02 145.1,493.22" fill="none" stroke="#83622e" stroke-width="14" stroke-linecap="round"/>
<polyline points="151.79,540.08 157.15,509.2" fill="none" stroke="#83622e" stroke-width="10" stroke-linecap="round"/>
<polyline points="163.84,533.69 173.2,474.06" fill="none" stroke="#83622e" stroke-width="14.5" stroke-linecap="round"/>
<polyline points="175.88,533.69 182.57,502.81" fill="none" stroke="#83622e" stroke-width="10" stroke-linecap="round"/>
<polyline points="189.26,527.3 197.29,468.73" fill="none" stroke="#83622e" stroke-width="14.5" stroke-linecap="round"/>
<polyline points="199.96,521.98 205.31,496.42" fill="none" stroke="#83622e" stroke-width="9" stroke-linecap="round"/>
<polyline points="210,514.52 217.36,460.21" fill="none" stroke="#83622e" stroke-width="14" stroke-linecap="round"/>
<polyline points="225.38,500.68 232.07,455.95" fill="none" stroke="#83622e" stroke-width="13" stroke-linecap="round"/>
<polyline points="241.44,490.03 245.45,455.95" fill="none" stroke="#83622e" stroke-width="12.5" stroke-linecap="round"/>
<polyline points="256.16,482.57 258.83,453.82" fill="none" stroke="#83622e" stroke-width="11.5" stroke-linecap="round"/>
<polyline points="268.2,475.12 268.2,450.62" fill="none" stroke="#83622e" stroke-width="10" stroke-linecap="round"/>
<polyline points="139.75,539.02 145.1,493.22" fill="none" stroke="#44398f" stroke-width="11.4" stroke-linecap="round"/>
<polyline points="139.75,534.76 145.1,498.55" fill="none" stroke="#4f3c4c" stroke-width="5" stroke-linecap="round" opacity="0.7"/>
<polyline points="151.79,540.08 157.15,509.2" fill="none" stroke="#44398f" stroke-width="7.4" stroke-linecap="round"/>
<polyline points="151.79,535.82 157.15,514.52" fill="none" stroke="#4f3c4c" stroke-width="1.5" stroke-linecap="round" opacity="0.7"/>
<polyline points="163.84,533.69 173.2,474.06" fill="none" stroke="#44398f" stroke-width="11.9" stroke-linecap="round"/>
<polyline points="163.84,529.43 173.2,479.38" fill="none" stroke="#4f3c4c" stroke-width="5.5" stroke-linecap="round" opacity="0.7"/>
<polyline points="175.88,533.69 182.57,502.81" fill="none" stroke="#44398f" stroke-width="7.4" stroke-linecap="round"/>
<polyline points="175.88,529.43 182.57,508.13" fill="none" stroke="#4f3c4c" stroke-width="1.5" stroke-linecap="round" opacity="0.7"/>
<polyline points="189.26,527.3 197.29,468.73" fill="none" stroke="#44398f" stroke-width="11.9" stroke-linecap="round"/>
<polyline points="189.26,523.04 197.29,474.06" fill="none" stroke="#4f3c4c" stroke-width="5.5" stroke-linecap="round" opacity="0.7"/>
<polyline points="199.96,521.98 205.31,496.42" fill="none" stroke="#44398f" stroke-width="6.4" stroke-linecap="round"/>
<polyline points="199.96,517.72 205.31,501.75" fill="none" stroke="#4f3c4c" stroke-width="1.5" stroke-linecap="round" opacity="0.7"/>
<polyline points="210,514.52 217.36,460.21" fill="none" stroke="#44398f" stroke-width="11.4" stroke-linecap="round"/>
<polyline points="210,510.26 217.36,465.54" fill="none" stroke="#4f3c4c" stroke-width="5" stroke-linecap="round" opacity="0.7"/>
<polyline points="225.38,500.68 232.07,455.95" fill="none" stroke="#44398f" stroke-width="10.4" stroke-linecap="round"/>
<polyline points="225.38,496.42 232.07,461.27" fill="none" stroke="#4f3c4c" stroke-width="4" stroke-linecap="round" opacity="0.7"/>
<polyline points="241.44,490.03 245.45,455.95" fill="none" stroke="#44398f" stroke-width="9.9" stroke-linecap="round"/>
<polyline points="241.44,485.77 245.45,461.27" fill="none" stroke="#4f3c4c" stroke-width="3.5" stroke-linecap="round" opacity="0.7"/>
<polyline points="256.16,482.57 258.83,453.82" fill="none" stroke="#44398f" stroke-width="8.9" stroke-linecap="round"/>
<polyline points="256.16,478.31 258.83,459.14" fill="none" stroke="#4f3c4c" stroke-width="2.5" stroke-linecap="round" opacity="0.7"/>
<polyline points="268.2,475.12 268.2,450.62" fill="none" stroke="#44398f" stroke-width="7.4" stroke-linecap="round"/>
<polyline points="268.2,470.86 268.2,455.95" fill="none" stroke="#4f3c4c" stroke-width="1.5" stroke-linecap="round" opacity="0.7"/>
<rect x="134.4" y="445.3" width="133.8" height="106.5" filter="url(#nzK)" opacity="0.45"/>
<rect x="134.4" y="445.3" width="133.8" height="106.5" filter="url(#nzO)" opacity="0.38"/>
<rect x="134.4" y="445.3" width="133.8" height="106.5" filter="url(#nzD)" opacity="0.6"/>
<circle cx="210.67" cy="515.59" r="3" fill="#e0219a" opacity="0.9" filter="url(#bl2)"/>
<circle cx="191.93" cy="529.43" r="2.6" fill="#e0219a" opacity="0.9" filter="url(#bl2)"/>
<circle cx="187.92" cy="532.63" r="1.8" fill="#e0219a" opacity="0.9" filter="url(#bl2)"/>
<circle cx="225.38" cy="502.81" r="2.2" fill="#e0219a" opacity="0.9" filter="url(#bl2)"/>
<circle cx="249.47" cy="490.03" r="2.2" fill="#e0219a" opacity="0.9" filter="url(#bl2)"/>
<circle cx="265.52" cy="480.44" r="1.4" fill="#e0219a" opacity="0.9" filter="url(#bl2)"/>
<circle cx="161.16" cy="536.89" r="1.4" fill="#e0219a" opacity="0.9" filter="url(#bl2)"/>
<circle cx="137.08" cy="534.76" r="2.4" fill="#3fae5a" opacity="0.7" filter="url(#bl2)"/>
<circle cx="162.5" cy="539.02" r="1.8" fill="#3fae5a" opacity="0.7" filter="url(#bl2)"/>
</g>
<rect x="240.8" y="547.85" width="25.5" height="1.7" fill="#fff"/>
</g>
<rect x="134.4" y="445.3" width="133.8" height="106.5" fill="none" stroke="#3a3150" stroke-width="0.9"/>
<clipPath id="cp10"><rect x="271.2" y="445.3" width="132.4" height="106.5"/></clipPath>
<g clip-path="url(#cp10)">
<rect x="271.2" y="445.3" width="132.4" height="106.5" fill="#3c2ba6"/>
<g filter="url(#bl0)">
<rect x="271.2" y="445.3" width="132.4" height="106.5" filter="url(#nzK2)" opacity="0.42"/>
<rect x="271.2" y="445.3" width="132.4" height="95.85" filter="url(#nzV)" opacity="0.7"/>
<rect x="271.2" y="445.3" width="132.4" height="106.5" filter="url(#nzO)" opacity="0.12"/>
<rect x="271.2" y="445.3" width="132.4" height="106.5" filter="url(#nzD)" opacity="0.4"/>
<polygon points="271.2,537.95 310.92,542.21 350.64,536.89 403.6,532.63 403.6,551.8 271.2,551.8" fill="#2e2040" opacity="0.92"/>
<polyline points="276.5,445.3 277.16,466.6 277.82,483.64" fill="none" stroke="#0d0820" stroke-width="1.4" stroke-linecap="round" stroke-linejoin="round" opacity="0.9"/>
<polyline points="296.36,445.3 293.05,466.6 291.06,490.03" fill="none" stroke="#0d0820" stroke-width="3" stroke-linecap="round" stroke-linejoin="round" opacity="0.95"/>
<polyline points="314.89,445.3 313.57,461.27 312.24,477.25" fill="none" stroke="#0d0820" stroke-width="2" stroke-linecap="round" stroke-linejoin="round" opacity="0.9"/>
<polyline points="326.81,445.3 333.43,466.6 337.4,479.38" fill="none" stroke="#0d0820" stroke-width="2.6" stroke-linecap="round" stroke-linejoin="round" opacity="0.95"/>
<polyline points="344.02,445.3 350.64,461.27 347.33,472.99" fill="none" stroke="#0d0820" stroke-width="3" stroke-linecap="round" stroke-linejoin="round" opacity="0.95"/>
<polyline points="359.91,449.56 354.61,466.6" fill="none" stroke="#0d0820" stroke-width="2" stroke-linecap="round" stroke-linejoin="round" opacity="0.9"/>
<polyline points="374.47,445.3 377.12,477.25 379.77,493.22" fill="none" stroke="#0d0820" stroke-width="1.8" stroke-linecap="round" stroke-linejoin="round" opacity="0.9"/>
<polyline points="394.33,445.3 396.32,461.27 396.98,477.25" fill="none" stroke="#0d0820" stroke-width="1.6" stroke-linecap="round" stroke-linejoin="round" opacity="0.9"/>
<polyline points="291.06,490.03 288.41,535.82" fill="none" stroke="#0d0820" stroke-width="0.9" stroke-linecap="round" stroke-linejoin="round" opacity="0.55"/>
<polyline points="312.24,477.25 310.92,530.5" fill="none" stroke="#0d0820" stroke-width="0.9" stroke-linecap="round" stroke-linejoin="round" opacity="0.55"/>
<polyline points="337.4,479.38 340.05,530.5" fill="none" stroke="#0d0820" stroke-width="0.9" stroke-linecap="round" stroke-linejoin="round" opacity="0.55"/>
<polyline points="379.77,493.22 382.42,525.17" fill="none" stroke="#0d0820" stroke-width="0.9" stroke-linecap="round" stroke-linejoin="round" opacity="0.55"/>
<polyline points="358.58,477.25 357.92,521.98" fill="none" stroke="#0d0820" stroke-width="0.8" stroke-linecap="round" stroke-linejoin="round" opacity="0.45"/>
<polyline points="325.48,493.22 324.16,535.82" fill="none" stroke="#0d0820" stroke-width="0.8" stroke-linecap="round" stroke-linejoin="round" opacity="0.45"/>
<ellipse cx="283.12" cy="535.82" rx="2.6" ry="5" fill="#58c0a0" opacity="0.65" filter="url(#bl2)"/>
<ellipse cx="306.95" cy="537.95" rx="2.2" ry="4" fill="#58c0a0" opacity="0.5" filter="url(#bl2)"/>
<ellipse cx="351.96" cy="526.24" rx="2.2" ry="5" fill="#58c0a0" opacity="0.55" filter="url(#bl2)"/>
<ellipse cx="361.23" cy="517.72" rx="2.6" ry="6" fill="#7fd6c0" opacity="0.7" filter="url(#bl2)"/>
<ellipse cx="393.01" cy="517.72" rx="2.6" ry="6" fill="#58c0a0" opacity="0.6" filter="url(#bl2)"/>
<ellipse cx="314.89" cy="528.37" rx="1.4" ry="2.6" fill="#58c0a0" opacity="0.4" filter="url(#bl2)"/>
<ellipse cx="284.44" cy="542.21" rx="2.6" ry="2.2" fill="#e0219a" opacity="0.85" filter="url(#bl2)"/>
<ellipse cx="305.62" cy="541.15" rx="3" ry="2.4" fill="#e0219a" opacity="0.85" filter="url(#bl2)"/>
<ellipse cx="347.33" cy="528.37" rx="2.2" ry="2.6" fill="#e0219a" opacity="0.85" filter="url(#bl2)"/>
<ellipse cx="383.74" cy="511.33" rx="1.2" ry="1.2" fill="#e0219a" opacity="0.6" filter="url(#bl2)"/>
<ellipse cx="330.78" cy="511.33" rx="1" ry="1" fill="#e0219a" opacity="0.6" filter="url(#bl2)"/>
</g>
<rect x="376.5" y="547.65" width="25.5" height="1.7" fill="#fff"/>
</g>
<rect x="271.2" y="445.3" width="132.4" height="106.5" fill="none" stroke="#3a3150" stroke-width="0.9"/>
<rect x="134.5" y="557" width="7.4" height="7.4" fill="#15508b"/>
<text x="146" y="563.5" font-size="8" textLength="17.5" lengthAdjust="spacingAndGlyphs">DAPI</text>
<rect x="177.7" y="557" width="7.4" height="7.4" fill="#33b04a"/>
<text x="189" y="563.5" font-size="8" textLength="32.9" lengthAdjust="spacingAndGlyphs">Lgr5 GFP</text>
<rect x="236.2" y="557" width="7.4" height="7.4" fill="#e6198f"/>
<text x="247.2" y="563.5" font-size="8" textLength="33.1" lengthAdjust="spacingAndGlyphs">Lysozyme</text>
<rect x="291" y="557" width="7.4" height="7.4" fill="#f08a1c"/>
<text x="303.3" y="563.5" font-size="8" textLength="27.8" lengthAdjust="spacingAndGlyphs">EpCAM</text>
<text x="403.7" y="560.6" font-size="7.9" text-anchor="end" textLength="22.9" lengthAdjust="spacingAndGlyphs">100µm</text>
<text x="9" y="589.2" font-size="10.2" font-weight="bold" textLength="9.6" lengthAdjust="spacingAndGlyphs" fill="#000">M</text>
<line x1="43" y1="588.3" x2="43" y2="613.4" stroke="#1a1a1a" stroke-width="1.1"/>
<line x1="39.6" y1="604.93" x2="43" y2="604.93" stroke="#1a1a1a" stroke-width="1"/>
<text x="37.2" y="607.53" font-size="8.3" text-anchor="end" textLength="8.49" lengthAdjust="spacingAndGlyphs">20</text>
<line x1="39.6" y1="596.87" x2="43" y2="596.87" stroke="#1a1a1a" stroke-width="1"/>
<text x="37.2" y="599.47" font-size="8.3" text-anchor="end" textLength="8.49" lengthAdjust="spacingAndGlyphs">40</text>
<line x1="39.6" y1="588.8" x2="43" y2="588.8" stroke="#1a1a1a" stroke-width="1"/>
<text x="37.2" y="591.4" font-size="8.3" text-anchor="end" textLength="8.49" lengthAdjust="spacingAndGlyphs">60</text>
<line x1="39.6" y1="613" x2="43" y2="613" stroke="#1a1a1a" stroke-width="1"/>
<line x1="43" y1="619.6" x2="43" y2="678.5" stroke="#1a1a1a" stroke-width="1.1"/>
<line x1="39.6" y1="678" x2="43" y2="678" stroke="#1a1a1a" stroke-width="1"/>
<text x="37.2" y="680.6" font-size="8.3" text-anchor="end" textLength="10.62" lengthAdjust="spacingAndGlyphs">0.0</text>
<line x1="39.6" y1="666.4" x2="43" y2="666.4" stroke="#1a1a1a" stroke-width="1"/>
<text x="37.2" y="669" font-size="8.3" text-anchor="end" textLength="10.62" lengthAdjust="spacingAndGlyphs">0.1</text>
<line x1="39.6" y1="654.8" x2="43" y2="654.8" stroke="#1a1a1a" stroke-width="1"/>
<text x="37.2" y="657.4" font-size="8.3" text-anchor="end" textLength="10.62" lengthAdjust="spacingAndGlyphs">0.2</text>
<line x1="39.6" y1="643.2" x2="43" y2="643.2" stroke="#1a1a1a" stroke-width="1"/>
<text x="37.2" y="645.8" font-size="8.3" text-anchor="end" textLength="10.62" lengthAdjust="spacingAndGlyphs">0.3</text>
<line x1="39.6" y1="631.6" x2="43" y2="631.6" stroke="#1a1a1a" stroke-width="1"/>
<text x="37.2" y="634.2" font-size="8.3" text-anchor="end" textLength="10.62" lengthAdjust="spacingAndGlyphs">0.4</text>
<line x1="39.6" y1="620" x2="43" y2="620" stroke="#1a1a1a" stroke-width="1"/>
<text x="37.2" y="622.6" font-size="8.3" text-anchor="end" textLength="10.62" lengthAdjust="spacingAndGlyphs">0.5</text>
<line x1="42.5" y1="678" x2="177.5" y2="678" stroke="#1a1a1a" stroke-width="1.1"/>
<line x1="43" y1="678" x2="43" y2="681.4" stroke="#1a1a1a" stroke-width="1"/>
<text x="43" y="690.2" font-size="8.3" text-anchor="middle">0</text>
<line x1="76.5" y1="678" x2="76.5" y2="681.4" stroke="#1a1a1a" stroke-width="1"/>
<text x="76.5" y="690.2" font-size="8.3" text-anchor="middle" textLength="8.49" lengthAdjust="spacingAndGlyphs">20</text>
<line x1="110" y1="678" x2="110" y2="681.4" stroke="#1a1a1a" stroke-width="1"/>
<text x="110" y="690.2" font-size="8.3" text-anchor="middle" textLength="8.49" lengthAdjust="spacingAndGlyphs">40</text>
<line x1="143.5" y1="678" x2="143.5" y2="681.4" stroke="#1a1a1a" stroke-width="1"/>
<text x="143.5" y="690.2" font-size="8.3" text-anchor="middle" textLength="8.49" lengthAdjust="spacingAndGlyphs">60</text>
<line x1="177" y1="678" x2="177" y2="681.4" stroke="#1a1a1a" stroke-width="1"/>
<text x="177" y="690.2" font-size="8.3" text-anchor="middle" textLength="8.49" lengthAdjust="spacingAndGlyphs">80</text>
<text x="110" y="703.8" font-size="9" text-anchor="middle" textLength="66.5" lengthAdjust="spacingAndGlyphs">Days post-transplant</text>
<text x="20.6" y="630.6" font-size="9" text-anchor="middle" transform="rotate(-90 20.6 630.6)" textLength="60.5" lengthAdjust="spacingAndGlyphs">BCR-ABL x10<tspan font-size="6.6" dy="-3">6</tspan><tspan dy="3"> /mL</tspan></text>
<line x1="113.35" y1="660" x2="113.35" y2="668" stroke="#15508b" stroke-width="0.9"/>
<line x1="111.75" y1="660" x2="114.95" y2="660" stroke="#15508b" stroke-width="0.9"/>
<line x1="160.25" y1="655" x2="160.25" y2="662.5" stroke="#15508b" stroke-width="0.9"/>
<line x1="158.65" y1="655" x2="161.85" y2="655" stroke="#15508b" stroke-width="0.9"/>
<line x1="78.18" y1="669.5" x2="78.18" y2="673.8" stroke="#15508b" stroke-width="0.9"/>
<line x1="76.58" y1="669.5" x2="79.78" y2="669.5" stroke="#15508b" stroke-width="0.9"/>
<path d="M54.73 678 L66.45 675.68 L78.18 673.94 L89.9 673.94 L101.62 673.36 L113.35 667.56 L125.08 668.72 L160.25 662.92" stroke="#15508b" stroke-width="1.4" fill="none" stroke-linejoin="miter"/>
<circle cx="54.73" cy="678" r="1.6" fill="#15508b"/>
<circle cx="66.45" cy="675.68" r="1.6" fill="#15508b"/>
<circle cx="78.18" cy="673.94" r="1.6" fill="#15508b"/>
<circle cx="89.9" cy="673.94" r="1.6" fill="#15508b"/>
<circle cx="101.62" cy="673.36" r="1.6" fill="#15508b"/>
<circle cx="113.35" cy="667.56" r="1.6" fill="#15508b"/>
<circle cx="125.08" cy="668.72" r="1.6" fill="#15508b"/>
<circle cx="160.25" cy="662.92" r="1.6" fill="#15508b"/>
<line x1="89.9" y1="665.8" x2="89.9" y2="672" stroke="#51227a" stroke-width="0.9"/>
<line x1="88.3" y1="665.8" x2="91.5" y2="665.8" stroke="#51227a" stroke-width="0.9"/>
<line x1="125.08" y1="648.5" x2="125.08" y2="653.8" stroke="#51227a" stroke-width="0.9"/>
<line x1="123.48" y1="648.5" x2="126.67" y2="648.5" stroke="#51227a" stroke-width="0.9"/>
<line x1="113.35" y1="655.5" x2="113.35" y2="658.8" stroke="#51227a" stroke-width="0.9"/>
<line x1="111.75" y1="655.5" x2="114.95" y2="655.5" stroke="#51227a" stroke-width="0.9"/>
<line x1="78.18" y1="657.5" x2="78.18" y2="661" stroke="#51227a" stroke-width="0.9"/>
<line x1="76.58" y1="657.5" x2="79.78" y2="657.5" stroke="#51227a" stroke-width="0.9"/>
<path d="M54.73 678 L66.45 604.13 L78.18 661.53 L89.9 672.2 L101.62 668.14 L113.35 658.86 L125.08 653.64 L160.25 670.46" stroke="#51227a" stroke-width="1.5" fill="none" stroke-dasharray="3 2" stroke-linejoin="miter"/>
<circle cx="54.73" cy="678" r="1.6" fill="#51227a"/>
<circle cx="66.45" cy="604.13" r="1.6" fill="#51227a"/>
<circle cx="78.18" cy="661.53" r="1.6" fill="#51227a"/>
<circle cx="89.9" cy="672.2" r="1.6" fill="#51227a"/>
<circle cx="101.62" cy="668.14" r="1.6" fill="#51227a"/>
<circle cx="113.35" cy="658.86" r="1.6" fill="#51227a"/>
<circle cx="125.08" cy="653.64" r="1.6" fill="#51227a"/>
<circle cx="160.25" cy="670.46" r="1.6" fill="#51227a"/>
<line x1="78.18" y1="669.5" x2="78.18" y2="673.8" stroke="#cc1236" stroke-width="0.9"/>
<line x1="76.58" y1="669.5" x2="79.78" y2="669.5" stroke="#cc1236" stroke-width="0.9"/>
<line x1="125.08" y1="646.8" x2="125.08" y2="661.5" stroke="#cc1236" stroke-width="0.9"/>
<line x1="123.48" y1="646.8" x2="126.67" y2="646.8" stroke="#cc1236" stroke-width="0.9"/>
<line x1="113.35" y1="663" x2="113.35" y2="668" stroke="#cc1236" stroke-width="0.9"/>
<line x1="111.75" y1="663" x2="114.95" y2="663" stroke="#cc1236" stroke-width="0.9"/>
<line x1="160.25" y1="657.5" x2="160.25" y2="663.8" stroke="#cc1236" stroke-width="0.9"/>
<line x1="158.65" y1="657.5" x2="161.85" y2="657.5" stroke="#cc1236" stroke-width="0.9"/>
<path d="M54.73 678 L66.45 675.68 L78.18 673.94 L89.9 673.94 L101.62 673.36 L113.35 668.14 L125.08 661.76 L160.25 664.08" stroke="#cc1236" stroke-width="1.6" fill="none" stroke-linejoin="miter"/>
<circle cx="54.73" cy="678" r="1.6" fill="#cc1236"/>
<circle cx="66.45" cy="675.68" r="1.6" fill="#cc1236"/>
<circle cx="78.18" cy="673.94" r="1.6" fill="#cc1236"/>
<circle cx="89.9" cy="673.94" r="1.6" fill="#cc1236"/>
<circle cx="101.62" cy="673.36" r="1.6" fill="#cc1236"/>
<circle cx="113.35" cy="668.14" r="1.6" fill="#cc1236"/>
<circle cx="125.08" cy="661.76" r="1.6" fill="#cc1236"/>
<circle cx="160.25" cy="664.08" r="1.6" fill="#cc1236"/>
<line x1="66.45" y1="593.3" x2="66.45" y2="605.74" stroke="#33b540" stroke-width="0.9"/>
<line x1="64.85" y1="593.3" x2="68.05" y2="593.3" stroke="#33b540" stroke-width="0.9"/>
<line x1="64.85" y1="593.3" x2="68.05" y2="593.3" stroke="#e8a33a" stroke-width="0.9"/>
<line x1="78.18" y1="605" x2="78.18" y2="610.18" stroke="#33b540" stroke-width="0.9"/>
<line x1="76.58" y1="605" x2="79.78" y2="605" stroke="#33b540" stroke-width="0.9"/>
<path d="M54.73 676.84 L66.45 605.74 L78.18 610.18 L89.9 612.39 L101.62 613 L113.35 613 L125.08 613 L160.25 612.6" stroke="#33b540" stroke-width="1.5" fill="none" stroke-dasharray="3 2" stroke-linejoin="miter"/>
<circle cx="54.73" cy="676.84" r="1.6" fill="#33b540"/>
<circle cx="66.45" cy="605.74" r="1.6" fill="#33b540"/>
<circle cx="78.18" cy="610.18" r="1.6" fill="#33b540"/>
<circle cx="89.9" cy="612.39" r="1.6" fill="#33b540"/>
<circle cx="101.62" cy="613" r="1.6" fill="#33b540"/>
<circle cx="113.35" cy="613" r="1.6" fill="#33b540"/>
<circle cx="125.08" cy="613" r="1.6" fill="#33b540"/>
<circle cx="160.25" cy="612.6" r="1.6" fill="#33b540"/>
<text x="191" y="589.2" font-size="10.2" font-weight="bold" textLength="8.32" lengthAdjust="spacingAndGlyphs" fill="#000">N</text>
<line x1="224.6" y1="587" x2="224.6" y2="678.1" stroke="#1a1a1a" stroke-width="1.1"/>
<line x1="221.2" y1="677.6" x2="224.6" y2="677.6" stroke="#1a1a1a" stroke-width="1"/>
<text x="218.8" y="680.17" font-size="8.3" text-anchor="end">0</text>
<line x1="221.2" y1="657.21" x2="224.6" y2="657.21" stroke="#1a1a1a" stroke-width="1"/>
<text x="218.8" y="659.79" font-size="8.3" text-anchor="end" textLength="8.49" lengthAdjust="spacingAndGlyphs">25</text>
<line x1="221.2" y1="636.83" x2="224.6" y2="636.83" stroke="#1a1a1a" stroke-width="1"/>
<text x="218.8" y="639.4" font-size="8.3" text-anchor="end" textLength="8.49" lengthAdjust="spacingAndGlyphs">50</text>
<line x1="221.2" y1="616.44" x2="224.6" y2="616.44" stroke="#1a1a1a" stroke-width="1"/>
<text x="218.8" y="619.01" font-size="8.3" text-anchor="end" textLength="8.49" lengthAdjust="spacingAndGlyphs">75</text>
<line x1="221.2" y1="596.05" x2="224.6" y2="596.05" stroke="#1a1a1a" stroke-width="1"/>
<text x="218.8" y="598.62" font-size="8.3" text-anchor="end" textLength="12.74" lengthAdjust="spacingAndGlyphs">100</text>
<line x1="224.1" y1="677.6" x2="359" y2="677.6" stroke="#1a1a1a" stroke-width="1.1"/>
<line x1="224.6" y1="677.6" x2="224.6" y2="681" stroke="#1a1a1a" stroke-width="1"/>
<text x="224.6" y="689.8" font-size="8.3" text-anchor="middle">0</text>
<line x1="251.38" y1="677.6" x2="251.38" y2="681" stroke="#1a1a1a" stroke-width="1"/>
<text x="251.38" y="689.8" font-size="8.3" text-anchor="middle" textLength="8.49" lengthAdjust="spacingAndGlyphs">20</text>
<line x1="278.16" y1="677.6" x2="278.16" y2="681" stroke="#1a1a1a" stroke-width="1"/>
<text x="278.16" y="689.8" font-size="8.3" text-anchor="middle" textLength="8.49" lengthAdjust="spacingAndGlyphs">40</text>
<line x1="304.94" y1="677.6" x2="304.94" y2="681" stroke="#1a1a1a" stroke-width="1"/>
<text x="304.94" y="689.8" font-size="8.3" text-anchor="middle" textLength="8.49" lengthAdjust="spacingAndGlyphs">60</text>
<line x1="331.72" y1="677.6" x2="331.72" y2="681" stroke="#1a1a1a" stroke-width="1"/>
<text x="331.72" y="689.8" font-size="8.3" text-anchor="middle" textLength="8.49" lengthAdjust="spacingAndGlyphs">80</text>
<line x1="358.5" y1="677.6" x2="358.5" y2="681" stroke="#1a1a1a" stroke-width="1"/>
<text x="358.5" y="689.8" font-size="8.3" text-anchor="middle" textLength="12.74" lengthAdjust="spacingAndGlyphs">100</text>
<text x="291.7" y="702.2" font-size="9" text-anchor="middle" textLength="43.5" lengthAdjust="spacingAndGlyphs">Days elapsed</text>
<text x="201.6" y="633" font-size="9" text-anchor="middle" transform="rotate(-90 201.6 633)" textLength="45" lengthAdjust="spacingAndGlyphs">Percent death</text>
<path d="M224.6 677.6 L251.38 677.6 L251.38 669.45 L258.07 669.45 L258.07 661.29 L271.46 661.29 L271.46 653.13 L287.53 653.13 L287.53 644.98 L346.45 644.98" stroke="#15508b" stroke-width="1.4" fill="none" stroke-linejoin="miter"/>
<circle cx="251.38" cy="669.45" r="1.5" fill="#15508b"/>
<circle cx="258.07" cy="661.29" r="1.5" fill="#15508b"/>
<circle cx="271.46" cy="653.13" r="1.5" fill="#15508b"/>
<circle cx="287.53" cy="644.98" r="1.5" fill="#15508b"/>
<circle cx="329.04" cy="644.98" r="1.5" fill="#15508b"/>
<circle cx="346.45" cy="644.98" r="1.5" fill="#15508b"/>
<path d="M224.6 677.6 L239.33 677.6 L239.33 669.45 L280.84 669.45 L280.84 661.29 L346.45 661.29" stroke="#cc1236" stroke-width="1.4" fill="none" stroke-linejoin="miter"/>
<circle cx="239.33" cy="669.45" r="1.5" fill="#cc1236"/>
<circle cx="280.84" cy="661.29" r="1.5" fill="#cc1236"/>
<circle cx="329.04" cy="661.29" r="1.5" fill="#cc1236"/>
<circle cx="346.45" cy="661.29" r="1.5" fill="#cc1236"/>
<path d="M243.08 677.6 L243.08 636.83 L263.43 636.83 L263.43 622.96 L329.04 622.96" stroke="#51227a" stroke-width="1.4" fill="none" stroke-dasharray="3 2" stroke-linejoin="miter"/>
<circle cx="243.08" cy="636.83" r="1.5" fill="#51227a"/>
<circle cx="263.43" cy="622.96" r="1.5" fill="#51227a"/>
<circle cx="329.04" cy="622.96" r="1.5" fill="#51227a"/>
<path d="M241.47 677.6 L241.47 663.74 L243.08 663.74 L243.08 650.69 L248.43 650.69 L248.43 636.83 L253.79 636.83 L253.79 622.96 L256.74 622.96 L256.74 609.91 L329.04 609.91" stroke="#33b540" stroke-width="1.4" fill="none" stroke-dasharray="3 2" stroke-linejoin="miter"/>
<circle cx="241.47" cy="663.74" r="1.5" fill="#33b540"/>
<circle cx="243.08" cy="650.69" r="1.5" fill="#33b540"/>
<circle cx="248.43" cy="636.83" r="1.5" fill="#33b540"/>
<circle cx="253.79" cy="622.96" r="1.5" fill="#33b540"/>
<circle cx="256.74" cy="609.91" r="1.5" fill="#33b540"/>
<circle cx="329.04" cy="609.91" r="1.5" fill="#33b540"/>
<text x="368.5" y="656.7" font-size="8.6" text-anchor="middle" textLength="7.7" lengthAdjust="spacing">**</text>
<path d="M380 639.8H376.3V664.4H380" stroke="#1a1a1a" stroke-width="0.9" fill="none"/>
<line x1="382.5" y1="639.8" x2="391.7" y2="639.8" stroke="#cc1236" stroke-width="1.3"/>
<circle cx="387.1" cy="639.8" r="1.5" fill="#cc1236"/>
<text x="395.4" y="642.3" font-size="7.1">PBS</text>
<line x1="382.5" y1="652.1" x2="391.7" y2="652.1" stroke="#15508b" stroke-width="1.3"/>
<circle cx="387.1" cy="652.1" r="1.5" fill="#15508b"/>
<text x="395.4" y="654.6" font-size="7.1" textLength="36" lengthAdjust="spacingAndGlyphs">PEG-rIL-29</text>
<line x1="382.5" y1="664.4" x2="391.7" y2="664.4" stroke="#33b540" stroke-width="1.3" stroke-dasharray="2.6 1.8"/>
<circle cx="387.1" cy="664.4" r="1.5" fill="#33b540"/>
<text x="395.4" y="666.9" font-size="7.1">PBS TCD</text>
<line x1="382.5" y1="676.5" x2="391.7" y2="676.5" stroke="#51227a" stroke-width="1.3" stroke-dasharray="2.6 1.8"/>
<circle cx="387.1" cy="676.5" r="1.5" fill="#51227a"/>
<text x="395.4" y="679" font-size="7.1" textLength="52.3" lengthAdjust="spacingAndGlyphs">PEG-rIL-29 TCD</text>
<path d="M0 0H520V710H0ZM1.2 1V708.7H518.9V1Z" fill="#151515" fill-rule="evenodd"/>
</svg>
</body></html>
